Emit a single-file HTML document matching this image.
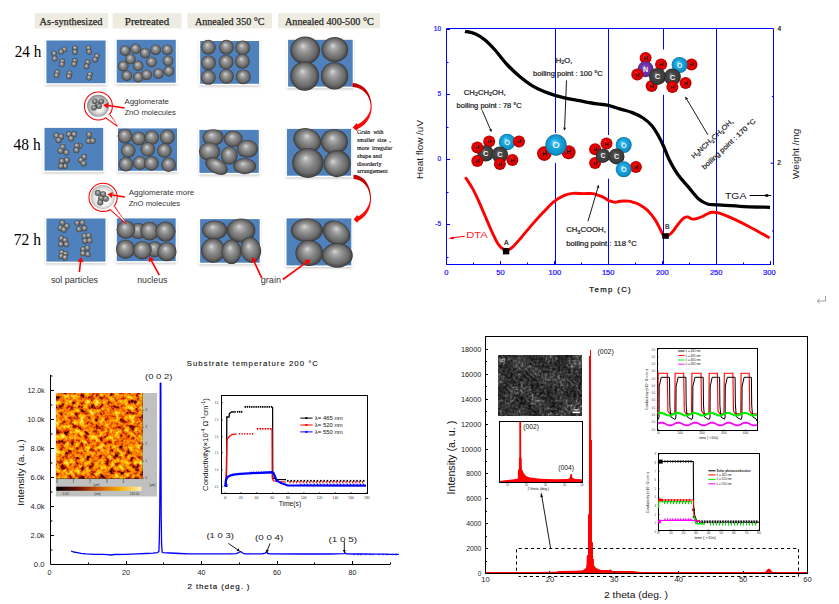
<!DOCTYPE html><html><head><meta charset="utf-8"><style>
html,body{margin:0;padding:0;background:#fff;width:839px;height:604px;overflow:hidden}
svg{display:block;font-family:"Liberation Sans",sans-serif}
</style></head><body>
<svg width="839" height="604" viewBox="0 0 839 604">
<defs>
<radialGradient id="sph" cx="0.5" cy="0.5" r="0.5" fx="0.42" fy="0.33"><stop offset="0" stop-color="#dadada"/><stop offset="0.22" stop-color="#ababab"/><stop offset="0.5" stop-color="#878787"/><stop offset="0.78" stop-color="#696969"/><stop offset="0.93" stop-color="#4a4a4a"/><stop offset="1" stop-color="#363636"/></radialGradient>
<radialGradient id="aH" cx="0.5" cy="0.5" r="0.5" fx="0.4" fy="0.35"><stop offset="0" stop-color="#ff6060"/><stop offset="0.25" stop-color="#f00000"/><stop offset="0.8" stop-color="#d80000"/><stop offset="1" stop-color="#a00000"/></radialGradient>
<radialGradient id="aO" cx="0.5" cy="0.5" r="0.5" fx="0.4" fy="0.35"><stop offset="0" stop-color="#90e0ff"/><stop offset="0.3" stop-color="#20b0e8"/><stop offset="0.85" stop-color="#1090c8"/><stop offset="1" stop-color="#0a6c9c"/></radialGradient>
<radialGradient id="aC" cx="0.5" cy="0.5" r="0.5" fx="0.4" fy="0.35"><stop offset="0" stop-color="#8a8a8a"/><stop offset="0.3" stop-color="#4a4a4a"/><stop offset="0.85" stop-color="#3a3a3a"/><stop offset="1" stop-color="#262626"/></radialGradient>
<radialGradient id="aN" cx="0.5" cy="0.5" r="0.5" fx="0.4" fy="0.35"><stop offset="0" stop-color="#b080e0"/><stop offset="0.3" stop-color="#7a3cb0"/><stop offset="0.85" stop-color="#642c98"/><stop offset="1" stop-color="#4a1e70"/></radialGradient>
<radialGradient id="disc1" cx="0.5" cy="0.5" r="0.5" fx="0.62" fy="0.7"><stop offset="0" stop-color="#ffffff"/><stop offset="0.35" stop-color="#e8e8e8"/><stop offset="0.8" stop-color="#b8b8b8"/><stop offset="1" stop-color="#8a8a8a"/></radialGradient>
<radialGradient id="disc2" cx="0.5" cy="0.5" r="0.5" fx="0.62" fy="0.66"><stop offset="0" stop-color="#ffffff"/><stop offset="0.55" stop-color="#f6f6f6"/><stop offset="0.85" stop-color="#dadada"/><stop offset="1" stop-color="#b0b0b0"/></radialGradient>
<linearGradient id="arcg" x1="0" y1="0" x2="0" y2="1"><stop offset="0" stop-color="#c00000"/><stop offset="0.45" stop-color="#d00000"/><stop offset="0.55" stop-color="#ff1010"/><stop offset="1" stop-color="#ff0000"/></linearGradient>
<linearGradient id="cbar" x1="0" y1="0" x2="1" y2="0"><stop offset="0" stop-color="#000000"/><stop offset="0.25" stop-color="#6a1000"/><stop offset="0.5" stop-color="#d05800"/><stop offset="0.75" stop-color="#f8b000"/><stop offset="1" stop-color="#fff0b0"/></linearGradient>
<filter id="afm" x="0" y="0" width="1" height="1" color-interpolation-filters="sRGB"><feTurbulence type="fractalNoise" baseFrequency="0.2" numOctaves="3" seed="7" result="n"/><feColorMatrix in="n" type="matrix" values="1.55 0 0 0 -0.24  1.55 0 0 0 -0.24  1.55 0 0 0 -0.24  0 0 0 0 1" result="g"/><feComponentTransfer in="g"><feFuncR type="table" tableValues="0 0.3 0.62 0.86 0.96 1 1 1 1"/><feFuncG type="table" tableValues="0 0.02 0.1 0.26 0.45 0.58 0.72 0.86 0.95"/><feFuncB type="table" tableValues="0 0 0 0 0 0 0.02 0.12 0.4"/></feComponentTransfer></filter>
<filter id="sem" x="0" y="0" width="1" height="1" color-interpolation-filters="sRGB"><feTurbulence type="fractalNoise" baseFrequency="0.07" numOctaves="1" seed="5" result="lo0"/><feColorMatrix in="lo0" type="matrix" values="1 0 0 0 0  1 0 0 0 0  1 0 0 0 0  0 0 0 0 1" result="lo"/><feTurbulence type="fractalNoise" baseFrequency="0.38" numOctaves="2" seed="3" result="hi0"/><feColorMatrix in="hi0" type="matrix" values="1 0 0 0 0  1 0 0 0 0  1 0 0 0 0  0 0 0 0 1" result="hi"/><feComposite in="lo" in2="hi" operator="arithmetic" k1="0" k2="0.6" k3="0.9" k4="-0.25" result="g"/><feComponentTransfer in="g"><feFuncR type="table" tableValues="0.02 0.05 0.1 0.17 0.25 0.35 0.55 0.85"/><feFuncG type="table" tableValues="0.02 0.05 0.1 0.17 0.25 0.35 0.55 0.85"/><feFuncB type="table" tableValues="0.02 0.05 0.1 0.17 0.25 0.35 0.55 0.85"/></feComponentTransfer></filter>
<filter id="blur05"><feGaussianBlur stdDeviation="0.6"/></filter>
<filter id="shd" x="-0.1" y="-0.1" width="1.2" height="1.3"><feGaussianBlur stdDeviation="0.8"/></filter>
</defs>
<rect x="34.8" y="13.1" width="73.4" height="15.3" fill="#eeece1"/>
<text x="39.5" y="24.6" font-size="10.4" fill="#262626" font-family='"Liberation Serif", serif' textLength="63" lengthAdjust="spacingAndGlyphs" stroke="#262626" stroke-width="0.25">As-synthesized</text>
<rect x="112.6" y="13.1" width="69" height="15.3" fill="#eeece1"/>
<text x="124.8" y="24.6" font-size="10.4" fill="#262626" font-family='"Liberation Serif", serif' textLength="44.4" lengthAdjust="spacingAndGlyphs" stroke="#262626" stroke-width="0.25">Pretreated</text>
<rect x="187.5" y="13.1" width="84.5" height="15.3" fill="#eeece1"/>
<text x="195" y="24.6" font-size="10.4" fill="#262626" font-family='"Liberation Serif", serif' textLength="69.5" lengthAdjust="spacingAndGlyphs" stroke="#262626" stroke-width="0.25">Annealed 350 °C</text>
<rect x="278" y="13.1" width="102" height="15.3" fill="#eeece1"/>
<text x="285" y="24.6" font-size="10.4" fill="#262626" font-family='"Liberation Serif", serif' textLength="88.75" lengthAdjust="spacingAndGlyphs" stroke="#262626" stroke-width="0.25">Annealed 400-500 °C</text>
<text x="14.7" y="56.7" font-size="15.8" fill="#000" font-family='"Liberation Serif", serif' textLength="26.6" lengthAdjust="spacingAndGlyphs" >24 h</text>
<text x="13.6" y="149.85" font-size="15.8" fill="#000" font-family='"Liberation Serif", serif' textLength="27.1" lengthAdjust="spacingAndGlyphs" >48 h</text>
<text x="13.8" y="244.6" font-size="15.8" fill="#000" font-family='"Liberation Serif", serif' textLength="27.2" lengthAdjust="spacingAndGlyphs" >72 h</text>
<rect x="45.4" y="41" width="61.2" height="44.9" fill="#9a9a9a" opacity="0.55" filter="url(#shd)"/>
<rect x="44.8" y="39.1" width="62.4" height="45.7" fill="#fff"/>
<rect x="46.4" y="40.5" width="59.2" height="42.7" fill="#4f81bd"/>
<circle cx="54.1" cy="53.6" r="2.8" fill="url(#sph)"/>
<circle cx="54.7" cy="58.6" r="2.8" fill="url(#sph)"/>
<circle cx="64.4" cy="49.5" r="2.8" fill="url(#sph)"/>
<circle cx="61.1" cy="51.8" r="2.8" fill="url(#sph)"/>
<circle cx="75" cy="48.2" r="2.8" fill="url(#sph)"/>
<circle cx="75" cy="52.1" r="2.8" fill="url(#sph)"/>
<circle cx="88.5" cy="48" r="2.8" fill="url(#sph)"/>
<circle cx="89.1" cy="51.8" r="2.8" fill="url(#sph)"/>
<circle cx="96.8" cy="56.1" r="2.8" fill="url(#sph)"/>
<circle cx="95" cy="59.7" r="2.8" fill="url(#sph)"/>
<circle cx="62.3" cy="61.4" r="2.8" fill="url(#sph)"/>
<circle cx="61.8" cy="64.5" r="2.8" fill="url(#sph)"/>
<circle cx="74.8" cy="60.9" r="2.8" fill="url(#sph)"/>
<circle cx="74.1" cy="64.1" r="2.8" fill="url(#sph)"/>
<circle cx="87.7" cy="62.3" r="2.8" fill="url(#sph)"/>
<circle cx="86.5" cy="66.4" r="2.8" fill="url(#sph)"/>
<circle cx="57.3" cy="72.3" r="2.8" fill="url(#sph)"/>
<circle cx="56.5" cy="75.5" r="2.8" fill="url(#sph)"/>
<circle cx="69.5" cy="73.2" r="2.8" fill="url(#sph)"/>
<circle cx="68.9" cy="76.4" r="2.8" fill="url(#sph)"/>
<circle cx="89.8" cy="74.5" r="2.8" fill="url(#sph)"/>
<circle cx="89.1" cy="77.7" r="2.8" fill="url(#sph)"/>
<rect x="115.7" y="40.3" width="61.1" height="45.1" fill="#9a9a9a" opacity="0.55" filter="url(#shd)"/>
<rect x="115.1" y="38.4" width="62.3" height="45.9" fill="#fff"/>
<rect x="116.7" y="39.8" width="59.1" height="42.9" fill="#4f81bd"/>
<circle cx="125" cy="50.5" r="5.3" fill="url(#sph)"/>
<circle cx="135.5" cy="48.8" r="5.3" fill="url(#sph)"/>
<circle cx="145.1" cy="53" r="5.3" fill="url(#sph)"/>
<circle cx="155.7" cy="49.7" r="5.3" fill="url(#sph)"/>
<circle cx="167.3" cy="49.7" r="5.3" fill="url(#sph)"/>
<circle cx="130.4" cy="59" r="5.3" fill="url(#sph)"/>
<circle cx="151.5" cy="62" r="5.3" fill="url(#sph)"/>
<circle cx="167.9" cy="60.8" r="5.3" fill="url(#sph)"/>
<circle cx="123.2" cy="66.1" r="5.3" fill="url(#sph)"/>
<circle cx="138.1" cy="65.8" r="5.3" fill="url(#sph)"/>
<circle cx="126.8" cy="75.6" r="5.3" fill="url(#sph)"/>
<circle cx="138.4" cy="77.1" r="5.3" fill="url(#sph)"/>
<circle cx="146.7" cy="74.7" r="5.3" fill="url(#sph)"/>
<circle cx="158.4" cy="73.5" r="5.3" fill="url(#sph)"/>
<circle cx="168.9" cy="71.1" r="5.3" fill="url(#sph)"/>
<rect x="199.2" y="41.5" width="60.9" height="45" fill="#9a9a9a" opacity="0.55" filter="url(#shd)"/>
<rect x="198.6" y="39.6" width="62.1" height="45.8" fill="#fff"/>
<rect x="200.2" y="41" width="58.9" height="42.8" fill="#4f81bd"/>
<circle cx="208.3" cy="47.2" r="7.4" fill="url(#sph)"/>
<circle cx="226.4" cy="47.2" r="7.4" fill="url(#sph)"/>
<circle cx="242.7" cy="47.8" r="7.4" fill="url(#sph)"/>
<circle cx="208.5" cy="62.8" r="7.4" fill="url(#sph)"/>
<circle cx="226.1" cy="62.1" r="7.4" fill="url(#sph)"/>
<circle cx="242.4" cy="61.2" r="7.4" fill="url(#sph)"/>
<circle cx="208.3" cy="77.4" r="7.4" fill="url(#sph)"/>
<circle cx="226.4" cy="76.3" r="7.4" fill="url(#sph)"/>
<circle cx="243.3" cy="76.8" r="7.4" fill="url(#sph)"/>
<rect x="287.1" y="40.3" width="66.6" height="49" fill="#9a9a9a" opacity="0.55" filter="url(#shd)"/>
<rect x="286.5" y="38.4" width="67.8" height="49.8" fill="#fff"/>
<rect x="288.1" y="39.8" width="64.6" height="46.8" fill="#4f81bd"/>
<ellipse cx="305.2" cy="50.3" rx="14.9" ry="13.9" fill="url(#sph)"/>
<ellipse cx="334.8" cy="49.7" rx="13.4" ry="12.6" fill="url(#sph)"/>
<ellipse cx="304.7" cy="76.1" rx="14.4" ry="14.6" fill="url(#sph)"/>
<ellipse cx="334.6" cy="75.9" rx="13.7" ry="13.7" fill="url(#sph)"/>
<rect x="43.5" y="128.4" width="60.7" height="44.9" fill="#9a9a9a" opacity="0.55" filter="url(#shd)"/>
<rect x="42.9" y="126.5" width="61.9" height="45.7" fill="#fff"/>
<rect x="44.5" y="127.9" width="58.7" height="42.7" fill="#4f81bd"/>
<circle cx="56.4" cy="135.6" r="3" fill="url(#sph)"/>
<circle cx="61.1" cy="136.7" r="3" fill="url(#sph)"/>
<circle cx="58.6" cy="140.2" r="3" fill="url(#sph)"/>
<circle cx="68.9" cy="134.3" r="3" fill="url(#sph)"/>
<circle cx="74.1" cy="134.3" r="3" fill="url(#sph)"/>
<circle cx="71.1" cy="138.5" r="3" fill="url(#sph)"/>
<circle cx="89.1" cy="134.7" r="3" fill="url(#sph)"/>
<circle cx="88.6" cy="141.1" r="3" fill="url(#sph)"/>
<circle cx="92.7" cy="140.8" r="3" fill="url(#sph)"/>
<circle cx="62.7" cy="147" r="3" fill="url(#sph)"/>
<circle cx="60.5" cy="150.9" r="3" fill="url(#sph)"/>
<circle cx="66.4" cy="152.5" r="3" fill="url(#sph)"/>
<circle cx="79.5" cy="145.8" r="3" fill="url(#sph)"/>
<circle cx="76.8" cy="145.8" r="3" fill="url(#sph)"/>
<circle cx="76.4" cy="150.2" r="3" fill="url(#sph)"/>
<circle cx="84.1" cy="157" r="3" fill="url(#sph)"/>
<circle cx="80.9" cy="160.2" r="3" fill="url(#sph)"/>
<circle cx="83.6" cy="163.4" r="3" fill="url(#sph)"/>
<circle cx="66.8" cy="160.2" r="3" fill="url(#sph)"/>
<circle cx="61.8" cy="161.1" r="3" fill="url(#sph)"/>
<circle cx="65" cy="166.1" r="3" fill="url(#sph)"/>
<circle cx="60.9" cy="166.1" r="3" fill="url(#sph)"/>
<rect x="117" y="128.9" width="61" height="44.6" fill="#9a9a9a" opacity="0.55" filter="url(#shd)"/>
<rect x="116.4" y="127" width="62.2" height="45.4" fill="#fff"/>
<rect x="118" y="128.4" width="59" height="42.4" fill="#4f81bd"/>
<circle cx="125" cy="136.1" r="7.4" fill="url(#sph)"/>
<circle cx="138.6" cy="138.4" r="7" fill="url(#sph)"/>
<circle cx="151.8" cy="137.5" r="7.3" fill="url(#sph)"/>
<circle cx="167.3" cy="137" r="7.4" fill="url(#sph)"/>
<circle cx="128.2" cy="150.6" r="7.3" fill="url(#sph)"/>
<circle cx="147.7" cy="149.3" r="7.3" fill="url(#sph)"/>
<circle cx="164.5" cy="150.6" r="7.3" fill="url(#sph)"/>
<circle cx="125.9" cy="164.3" r="7.3" fill="url(#sph)"/>
<circle cx="140" cy="162.9" r="7" fill="url(#sph)"/>
<circle cx="151.4" cy="163.4" r="7.3" fill="url(#sph)"/>
<circle cx="168.6" cy="164.7" r="7.3" fill="url(#sph)"/>
<rect x="198.4" y="130.4" width="61.4" height="45.2" fill="#9a9a9a" opacity="0.55" filter="url(#shd)"/>
<rect x="197.8" y="128.5" width="62.6" height="46" fill="#fff"/>
<rect x="199.4" y="129.9" width="59.4" height="43" fill="#4f81bd"/>
<ellipse cx="213.1" cy="137.4" rx="10.7" ry="8.2" fill="url(#sph)"/>
<ellipse cx="233.2" cy="138.9" rx="9.4" ry="8.2" fill="url(#sph)"/>
<ellipse cx="209.6" cy="151.6" rx="10.7" ry="9.4" fill="url(#sph)"/>
<ellipse cx="247.4" cy="148.8" rx="10.7" ry="9" fill="url(#sph)"/>
<ellipse cx="229.3" cy="155.5" rx="8.4" ry="9.3" fill="url(#sph)"/>
<ellipse cx="216.5" cy="166.2" rx="12.2" ry="7.4" fill="url(#sph)" transform="rotate(30 216.5 166.2)"/>
<ellipse cx="244.7" cy="166.2" rx="11.4" ry="8" fill="url(#sph)"/>
<rect x="285.9" y="129.4" width="66.2" height="49" fill="#9a9a9a" opacity="0.55" filter="url(#shd)"/>
<rect x="285.3" y="127.5" width="67.4" height="49.8" fill="#fff"/>
<rect x="286.9" y="128.9" width="64.2" height="46.8" fill="#4f81bd"/>
<ellipse cx="307.2" cy="140.3" rx="14.3" ry="11.8" fill="url(#sph)" transform="rotate(25 307.2 140.3)"/>
<ellipse cx="334.3" cy="141.7" rx="13.6" ry="12.5" fill="url(#sph)"/>
<ellipse cx="337.1" cy="163.6" rx="13.6" ry="13.6" fill="url(#sph)" transform="rotate(-40 337.1 163.6)"/>
<ellipse cx="307.9" cy="162.9" rx="15.7" ry="15" fill="url(#sph)"/>
<rect x="45.4" y="219" width="61.1" height="45.3" fill="#9a9a9a" opacity="0.55" filter="url(#shd)"/>
<rect x="44.8" y="217.1" width="62.3" height="46.1" fill="#fff"/>
<rect x="46.4" y="218.5" width="59.1" height="43.1" fill="#4f81bd"/>
<circle cx="62.3" cy="222.7" r="2.9" fill="url(#sph)"/>
<circle cx="66.8" cy="226.1" r="2.9" fill="url(#sph)"/>
<circle cx="60.5" cy="227.9" r="2.9" fill="url(#sph)"/>
<circle cx="63.8" cy="229.7" r="2.9" fill="url(#sph)"/>
<circle cx="77.3" cy="223.1" r="2.9" fill="url(#sph)"/>
<circle cx="82.3" cy="222.7" r="2.9" fill="url(#sph)"/>
<circle cx="79.1" cy="229.3" r="2.9" fill="url(#sph)"/>
<circle cx="84.5" cy="228.4" r="2.9" fill="url(#sph)"/>
<circle cx="61.4" cy="238.4" r="2.9" fill="url(#sph)"/>
<circle cx="65" cy="240.2" r="2.9" fill="url(#sph)"/>
<circle cx="60.9" cy="244.3" r="2.9" fill="url(#sph)"/>
<circle cx="66.4" cy="244.3" r="2.9" fill="url(#sph)"/>
<circle cx="84.5" cy="236.1" r="2.9" fill="url(#sph)"/>
<circle cx="88.6" cy="235.6" r="2.9" fill="url(#sph)"/>
<circle cx="85" cy="240.9" r="2.9" fill="url(#sph)"/>
<circle cx="89.6" cy="240.6" r="2.9" fill="url(#sph)"/>
<circle cx="61.8" cy="252.5" r="2.9" fill="url(#sph)"/>
<circle cx="65.5" cy="253.9" r="2.9" fill="url(#sph)"/>
<circle cx="61.4" cy="256.1" r="2.9" fill="url(#sph)"/>
<circle cx="65" cy="257.5" r="2.9" fill="url(#sph)"/>
<circle cx="83.2" cy="249.3" r="2.9" fill="url(#sph)"/>
<circle cx="87.3" cy="247.9" r="2.9" fill="url(#sph)"/>
<circle cx="82.8" cy="253.4" r="2.9" fill="url(#sph)"/>
<circle cx="87.8" cy="254.3" r="2.9" fill="url(#sph)"/>
<rect x="115.8" y="218.9" width="60.9" height="44.9" fill="#9a9a9a" opacity="0.55" filter="url(#shd)"/>
<rect x="115.2" y="217" width="62.1" height="45.7" fill="#fff"/>
<rect x="116.8" y="218.4" width="58.9" height="42.7" fill="#4f81bd"/>
<circle cx="138.2" cy="231.1" r="8" fill="url(#sph)"/>
<circle cx="154.6" cy="249.3" r="8" fill="url(#sph)"/>
<circle cx="125.9" cy="229.7" r="9.3" fill="url(#sph)"/>
<circle cx="149.6" cy="231.1" r="9.3" fill="url(#sph)"/>
<circle cx="165.5" cy="231.6" r="10" fill="url(#sph)"/>
<circle cx="125.5" cy="249.3" r="9.6" fill="url(#sph)"/>
<circle cx="142.3" cy="250.2" r="9.3" fill="url(#sph)"/>
<circle cx="166.9" cy="251.6" r="9.6" fill="url(#sph)"/>
<rect x="199.1" y="219.6" width="61.6" height="45.8" fill="#9a9a9a" opacity="0.55" filter="url(#shd)"/>
<rect x="198.5" y="217.7" width="62.8" height="46.6" fill="#fff"/>
<rect x="200.1" y="219.1" width="59.6" height="43.6" fill="#4f81bd"/>
<ellipse cx="214.6" cy="230.1" rx="12.7" ry="9.6" fill="url(#sph)"/>
<ellipse cx="241.1" cy="230.4" rx="14.3" ry="12" fill="url(#sph)"/>
<ellipse cx="213.1" cy="250.4" rx="12.1" ry="12.3" fill="url(#sph)"/>
<ellipse cx="231.5" cy="251.8" rx="9.9" ry="12.3" fill="url(#sph)"/>
<ellipse cx="250.8" cy="249.8" rx="10.2" ry="13" fill="url(#sph)" transform="rotate(-10 250.8 249.8)"/>
<rect x="285.5" y="218.9" width="66.8" height="49.2" fill="#9a9a9a" opacity="0.55" filter="url(#shd)"/>
<rect x="284.9" y="217" width="68" height="50" fill="#fff"/>
<rect x="286.5" y="218.4" width="64.8" height="47" fill="#4f81bd"/>
<ellipse cx="306.9" cy="230.3" rx="16" ry="11.9" fill="url(#sph)"/>
<ellipse cx="336.4" cy="232.9" rx="14.5" ry="11.5" fill="url(#sph)" transform="rotate(32 336.4 232.9)"/>
<ellipse cx="337.2" cy="255.4" rx="15.6" ry="12.3" fill="url(#sph)"/>
<ellipse cx="309.2" cy="253" rx="13.8" ry="13" fill="url(#sph)"/>
<path d="M352.5,82.9 C363.5,83.2 371.7,93 371.7,106.6 C371.9,116 367,124.6 358.4,128.6 L356.4,130.8 L352.7,127.5 L356.6,122.9 L357.3,124.6 C364,121.5 370.4,114.5 370.6,106.6 C370.6,96 363,87.3 352.5,87.0 Z" fill="url(#arcg)" transform="translate(0 0) translate(353 0) scale(1 1) translate(-353 0)"/>
<path d="M352.5,82.9 C363.5,83.2 371.7,93 371.7,106.6 C371.9,116 367,124.6 358.4,128.6 L356.4,130.8 L352.7,127.5 L356.6,122.9 L357.3,124.6 C364,121.5 370.4,114.5 370.6,106.6 C370.6,96 363,87.3 352.5,87.0 Z" fill="url(#arcg)" transform="translate(1 91.9) translate(353 0) scale(0.91 1) translate(-353 0)"/>
<text x="357" y="133.9" font-size="6.7" fill="#1a1a1a" font-family='"Liberation Serif", serif' textLength="26.5" lengthAdjust="spacingAndGlyphs" stroke="#1a1a1a" stroke-width="0.18">Grain&#160;&#160;with</text>
<text x="357" y="141.7" font-size="6.7" fill="#1a1a1a" font-family='"Liberation Serif", serif' textLength="33.9" lengthAdjust="spacingAndGlyphs" stroke="#1a1a1a" stroke-width="0.18">smaller&#160;&#160;size&#160;&#160;,</text>
<text x="357" y="149.6" font-size="6.7" fill="#1a1a1a" font-family='"Liberation Serif", serif' textLength="35.1" lengthAdjust="spacingAndGlyphs" stroke="#1a1a1a" stroke-width="0.18">more&#160;&#160;irregular</text>
<text x="357" y="157.5" font-size="6.7" fill="#1a1a1a" font-family='"Liberation Serif", serif' textLength="24.8" lengthAdjust="spacingAndGlyphs" stroke="#1a1a1a" stroke-width="0.18">shape and</text>
<text x="357" y="165.7" font-size="6.7" fill="#1a1a1a" font-family='"Liberation Serif", serif' textLength="24.4" lengthAdjust="spacingAndGlyphs" stroke="#1a1a1a" stroke-width="0.18">disorderly</text>
<text x="357" y="173.2" font-size="6.7" fill="#1a1a1a" font-family='"Liberation Serif", serif' textLength="30.6" lengthAdjust="spacingAndGlyphs" stroke="#1a1a1a" stroke-width="0.18">arrangement</text>
<path d="M105.7,117.9 L117.4,126.3 L110.1,115" fill="#fff" stroke="#ff0000" stroke-width="1.1" stroke-linejoin="miter"/>
<circle cx="98.4" cy="106" r="14" fill="#fff" stroke="#ff0000" stroke-width="1.1"/>
<path d="M105.5,116.7 L117.4,125.5 L109.1,114.6 Z" fill="#fff"/>
<circle cx="98.1" cy="105.8" r="11" fill="url(#disc1)"/>
<circle cx="94.8" cy="101.5" r="2.8" fill="url(#sph)"/>
<circle cx="101.3" cy="101.5" r="2.8" fill="url(#sph)"/>
<circle cx="97.7" cy="104.8" r="2.8" fill="url(#sph)"/>
<circle cx="94" cy="107.7" r="2.8" fill="url(#sph)"/>
<circle cx="99.1" cy="106.2" r="2.8" fill="url(#sph)"/>
<line x1="124.6" y1="108" x2="108.05" y2="105.61" stroke="#ff0000" stroke-width="1.5"/>
<path d="M103.1,104.9 L108.48,102.64 L107.62,108.58 Z" fill="#ff0000"/>
<path d="M109.8,209.4 L126.1,223.7 L114.6,206.6" fill="#fff" stroke="#ff0000" stroke-width="1.1" stroke-linejoin="miter"/>
<circle cx="103.1" cy="197.3" r="14.1" fill="#fff" stroke="#ff0000" stroke-width="1.1"/>
<path d="M109.6,208.2 L126.1,222.9 L113.6,206.2 Z" fill="#fff"/>
<circle cx="102.8" cy="197.1" r="12" fill="url(#disc2)"/>
<circle cx="97.9" cy="193.1" r="3" fill="url(#sph)"/>
<circle cx="103.1" cy="194.3" r="3" fill="url(#sph)"/>
<circle cx="101.1" cy="198.3" r="3" fill="url(#sph)"/>
<circle cx="105.8" cy="198.7" r="3" fill="url(#sph)"/>
<circle cx="100.3" cy="202.6" r="3" fill="url(#sph)"/>
<line x1="124.9" y1="196.9" x2="112.35" y2="195.03" stroke="#ff0000" stroke-width="1.5"/>
<path d="M107.4,194.3 L112.79,192.07 L111.9,198 Z" fill="#ff0000"/>
<text x="124.4" y="104.4" font-size="7.6" fill="#333" textLength="44.6" lengthAdjust="spacingAndGlyphs" >Agglomerate</text>
<text x="124.4" y="114.6" font-size="7.6" fill="#333" textLength="51.5" lengthAdjust="spacingAndGlyphs" >ZnO molecules</text>
<text x="128.7" y="195.3" font-size="7.6" fill="#333" textLength="65.6" lengthAdjust="spacingAndGlyphs" >Agglomerate more</text>
<text x="128.7" y="206" font-size="7.6" fill="#333" textLength="51.5" lengthAdjust="spacingAndGlyphs" >ZnO molecules</text>
<line x1="79.4" y1="272" x2="80.47" y2="261.97" stroke="#f00" stroke-width="1.6"/>
<path d="M81,257 L83.45,262.29 L77.49,261.65 Z" fill="#f00"/>
<line x1="159.3" y1="275.1" x2="151.5" y2="260.88" stroke="#f00" stroke-width="1.6"/>
<path d="M149.1,256.5 L154.13,259.44 L148.87,262.33 Z" fill="#f00"/>
<line x1="261.8" y1="278.2" x2="254.11" y2="261.63" stroke="#f00" stroke-width="1.6"/>
<path d="M252,257.1 L256.83,260.37 L251.39,262.9 Z" fill="#f00"/>
<line x1="282.8" y1="279.5" x2="306.36" y2="262.34" stroke="#f00" stroke-width="1.6"/>
<path d="M310.4,259.4 L308.12,264.77 L304.59,259.92 Z" fill="#f00"/>
<text x="50.9" y="282.9" font-size="8.6" fill="#333" textLength="47.2" lengthAdjust="spacingAndGlyphs" >sol particles</text>
<text x="137.2" y="282.9" font-size="8.6" fill="#333" textLength="30.2" lengthAdjust="spacingAndGlyphs" >nucleus</text>
<text x="260.7" y="283.2" font-size="8.8" fill="#333" textLength="20.3" lengthAdjust="spacingAndGlyphs" >grain</text>
<line x1="555.5" y1="28.5" x2="555.5" y2="132.9" stroke="#0000ff" stroke-width="1"/>
<line x1="555.5" y1="162.9" x2="555.5" y2="264.5" stroke="#0000ff" stroke-width="1"/>
<line x1="608.5" y1="28.5" x2="608.5" y2="135" stroke="#0000ff" stroke-width="1"/>
<line x1="608.5" y1="178.6" x2="608.5" y2="264.5" stroke="#0000ff" stroke-width="1"/>
<line x1="663.5" y1="28.5" x2="663.5" y2="49.5" stroke="#0000ff" stroke-width="1"/>
<line x1="663.5" y1="94.8" x2="663.5" y2="264.5" stroke="#0000ff" stroke-width="1"/>
<line x1="716.5" y1="28.5" x2="716.5" y2="264.5" stroke="#0000ff" stroke-width="1"/>
<path d="M446.5,28.5 L446.5,264.5 L771,264.5" fill="none" stroke="#0000ff" stroke-width="1"/>
<path d="M446.5,28.5 L773.5,28.5 L773.5,265" fill="none" stroke="#0000ff" stroke-width="1"/>
<line x1="446.5" y1="29.5" x2="450" y2="29.5" stroke="#0000ff" stroke-width="1"/>
<line x1="446.5" y1="62.5" x2="448.5" y2="62.5" stroke="#0000ff" stroke-width="1"/>
<line x1="446.5" y1="94.5" x2="450" y2="94.5" stroke="#0000ff" stroke-width="1"/>
<line x1="446.5" y1="127.5" x2="448.5" y2="127.5" stroke="#0000ff" stroke-width="1"/>
<line x1="446.5" y1="159.5" x2="450" y2="159.5" stroke="#0000ff" stroke-width="1"/>
<line x1="446.5" y1="192.5" x2="448.5" y2="192.5" stroke="#0000ff" stroke-width="1"/>
<line x1="446.5" y1="224.5" x2="450" y2="224.5" stroke="#0000ff" stroke-width="1"/>
<line x1="446.5" y1="257.5" x2="448.5" y2="257.5" stroke="#0000ff" stroke-width="1"/>
<text x="441.2" y="31.4" font-size="6.6" fill="#2a1aff" text-anchor="end" stroke="#2a1aff" stroke-width="0.22" >10</text>
<text x="441.2" y="96.4" font-size="6.6" fill="#2a1aff" text-anchor="end" stroke="#2a1aff" stroke-width="0.22" >5</text>
<text x="441.2" y="161.4" font-size="6.6" fill="#2a1aff" text-anchor="end" stroke="#2a1aff" stroke-width="0.22" >0</text>
<text x="441.2" y="226.4" font-size="6.6" fill="#2a1aff" text-anchor="end" stroke="#2a1aff" stroke-width="0.22" >-5</text>
<line x1="446.5" y1="264.5" x2="446.5" y2="261" stroke="#0000ff" stroke-width="1"/>
<line x1="473.5" y1="264.5" x2="473.5" y2="262.5" stroke="#0000ff" stroke-width="1"/>
<line x1="500.5" y1="264.5" x2="500.5" y2="261" stroke="#0000ff" stroke-width="1"/>
<line x1="527.5" y1="264.5" x2="527.5" y2="262.5" stroke="#0000ff" stroke-width="1"/>
<line x1="554.5" y1="264.5" x2="554.5" y2="261" stroke="#0000ff" stroke-width="1"/>
<line x1="581.5" y1="264.5" x2="581.5" y2="262.5" stroke="#0000ff" stroke-width="1"/>
<line x1="608.5" y1="264.5" x2="608.5" y2="261" stroke="#0000ff" stroke-width="1"/>
<line x1="635.5" y1="264.5" x2="635.5" y2="262.5" stroke="#0000ff" stroke-width="1"/>
<line x1="662.5" y1="264.5" x2="662.5" y2="261" stroke="#0000ff" stroke-width="1"/>
<line x1="689.5" y1="264.5" x2="689.5" y2="262.5" stroke="#0000ff" stroke-width="1"/>
<line x1="716.5" y1="264.5" x2="716.5" y2="261" stroke="#0000ff" stroke-width="1"/>
<line x1="743.5" y1="264.5" x2="743.5" y2="262.5" stroke="#0000ff" stroke-width="1"/>
<line x1="770.5" y1="264.5" x2="770.5" y2="261" stroke="#0000ff" stroke-width="1"/>
<text x="446.3" y="275.2" font-size="6.6" fill="#2a1aff" textLength="4.2" lengthAdjust="spacingAndGlyphs" text-anchor="middle" stroke="#2a1aff" stroke-width="0.22" >0</text>
<text x="500.5" y="275.2" font-size="6.6" fill="#2a1aff" textLength="8.4" lengthAdjust="spacingAndGlyphs" text-anchor="middle" stroke="#2a1aff" stroke-width="0.22" >50</text>
<text x="554.8" y="275.2" font-size="6.6" fill="#2a1aff" textLength="12.6" lengthAdjust="spacingAndGlyphs" text-anchor="middle" stroke="#2a1aff" stroke-width="0.22" >100</text>
<text x="608.2" y="275.2" font-size="6.6" fill="#2a1aff" textLength="12.6" lengthAdjust="spacingAndGlyphs" text-anchor="middle" stroke="#2a1aff" stroke-width="0.22" >150</text>
<text x="662.3" y="275.2" font-size="6.6" fill="#2a1aff" textLength="12.6" lengthAdjust="spacingAndGlyphs" text-anchor="middle" stroke="#2a1aff" stroke-width="0.22" >200</text>
<text x="716.2" y="275.2" font-size="6.6" fill="#2a1aff" textLength="12.6" lengthAdjust="spacingAndGlyphs" text-anchor="middle" stroke="#2a1aff" stroke-width="0.22" >250</text>
<text x="769.4" y="275.2" font-size="6.6" fill="#2a1aff" textLength="12.6" lengthAdjust="spacingAndGlyphs" text-anchor="middle" stroke="#2a1aff" stroke-width="0.22" >300</text>
<line x1="773.5" y1="96.5" x2="771.9" y2="96.5" stroke="#0000ff" stroke-width="1"/>
<line x1="773.5" y1="163.2" x2="770.5" y2="163.2" stroke="#0000ff" stroke-width="1"/>
<line x1="773.5" y1="231" x2="771.9" y2="231" stroke="#0000ff" stroke-width="1"/>
<text x="777.5" y="30.8" font-size="6.6" fill="#111" stroke="#111" stroke-width="0.22" >4</text>
<text x="777.3" y="165" font-size="6.6" fill="#111" stroke="#111" stroke-width="0.22" >2</text>
<text x="589.3" y="292.2" font-size="7.8" fill="#1a1a1a" textLength="41.4" lengthAdjust="spacing" stroke="#1a1a1a" stroke-width="0.25">Temp (C)</text>
<text x="423" y="179" font-size="9" fill="#1a1a1a" textLength="59" lengthAdjust="spacingAndGlyphs" transform="rotate(-90 423 179)" >Heat flow /uV</text>
<text x="799.3" y="178.9" font-size="9.4" fill="#1a1a1a" textLength="50.3" lengthAdjust="spacingAndGlyphs" transform="rotate(-90 799.3 178.9)" >Weight /mg</text>
<path d="M465,31.3 C466.67,31.72 471.67,32.35 475,33.8 C478.33,35.25 481.67,37.3 485,40 C488.33,42.7 491.25,45.83 495,50 C498.75,54.17 503.33,60.53 507.5,65 C511.67,69.47 515.92,73.35 520,76.8 C524.08,80.25 528,83.23 532,85.7 C536,88.17 540.03,89.95 544,91.6 C547.97,93.25 551.85,94.43 555.8,95.6 C559.75,96.77 563.73,97.75 567.7,98.6 C571.67,99.45 575.63,99.97 579.6,100.7 C583.57,101.43 588.1,102.42 591.5,103 C594.9,103.58 597.18,103.8 600,104.2 C602.82,104.6 604.82,104.53 608.4,105.4 C611.98,106.27 617.52,108.2 621.5,109.4 C625.48,110.6 628.7,111.17 632.3,112.6 C635.9,114.03 639.87,115.85 643.1,118 C646.33,120.15 649.2,122.63 651.7,125.5 C654.2,128.37 656.13,131.78 658.1,135.2 C660.07,138.62 661.7,142.05 663.5,146 C665.3,149.95 666.57,154.23 668.9,158.9 C671.23,163.57 674.27,169.33 677.5,174 C680.73,178.67 684.72,182.68 688.3,186.9 C691.88,191.12 695.8,196.45 699,199.3 C702.2,202.15 704.62,203.08 707.5,204 C710.38,204.92 710.88,204.42 716.3,204.8 C721.72,205.18 731.05,205.87 740,206.3 C748.95,206.73 765,207.22 770,207.4" fill="none" stroke="#000" stroke-width="3.3" stroke-linejoin="round"/>
<path d="M465.3,177.2 C466.45,178.98 469.98,183.97 472.2,187.9 C474.42,191.83 476.47,196.15 478.6,200.8 C480.73,205.45 482.85,210.8 485,215.8 C487.15,220.8 489.35,226.15 491.5,230.8 C493.65,235.45 495.82,240.53 497.9,243.7 C499.98,246.87 502.4,248.7 504,249.8 C505.6,250.9 506.02,250.78 507.5,250.3 C508.98,249.82 510.57,249.08 512.9,246.9 C515.23,244.72 518.27,240.95 521.5,237.2 C524.73,233.45 528.72,228.5 532.3,224.4 C535.88,220.3 539.43,216.37 543,212.6 C546.57,208.83 550.13,204.67 553.7,201.8 C557.27,198.93 561.18,196.8 564.4,195.4 C567.62,194 569.78,193.7 573,193.4 C576.22,193.1 580.38,193.57 583.7,193.6 C587.02,193.63 590.77,193.42 592.9,193.6 C595.03,193.78 595.07,194.23 596.5,194.7 C597.93,195.17 600.08,195.82 601.5,196.4 C602.92,196.98 603.82,197.52 605,198.2 C606.18,198.88 607.4,199.92 608.6,200.5 C609.8,201.08 611,201.4 612.2,201.7 C613.4,202 614.5,202.38 615.8,202.3 C617.1,202.22 617.87,201.4 620,201.2 C622.13,201 626.33,200.9 628.6,201.1 C630.87,201.3 631.7,201.75 633.6,202.4 C635.5,203.05 637.68,203.67 640,205 C642.32,206.33 645.02,208 647.5,210.4 C649.98,212.8 652.73,216.17 654.9,219.4 C657.07,222.63 659.07,227.15 660.5,229.8 C661.93,232.45 662.33,234.33 663.5,235.3 C664.67,236.27 666.45,235.73 667.5,235.6 C668.55,235.47 668.8,235.33 669.8,234.5 C670.8,233.67 672.25,232.13 673.5,230.6 C674.75,229.07 675.93,227.05 677.3,225.3 C678.67,223.55 680.47,221.4 681.7,220.1 C682.93,218.8 683.7,218.03 684.7,217.5 C685.7,216.97 686.58,216.68 687.7,216.9 C688.82,217.12 690.17,218.45 691.4,218.8 C692.63,219.15 693.85,219.15 695.1,219 C696.35,218.85 697.58,218.35 698.9,217.9 C700.22,217.45 701.57,216.98 703,216.3 C704.43,215.62 706.07,214.47 707.5,213.8 C708.93,213.13 710.18,212.52 711.6,212.3 C713.02,212.08 714.58,212.32 716,212.5 C717.42,212.68 717.27,212.38 720.1,213.4 C722.93,214.42 727.98,216.3 733,218.6 C738.02,220.9 744.12,223.98 750.2,227.2 C756.28,230.42 766.28,236.12 769.5,237.9" fill="none" stroke="#ff0000" stroke-width="2.9" stroke-linejoin="round"/>
<rect x="502.9" y="248.0" width="6.4" height="6.4" fill="#000"/>
<rect x="662.2" y="233.2" width="6.6" height="5.6" fill="#000"/>
<text x="503.9" y="244.8" font-size="7.4" fill="#1a1a1a" textLength="4.6" lengthAdjust="spacingAndGlyphs" stroke="#1a1a1a" stroke-width="0.22" >A</text>
<text x="665" y="228.7" font-size="7.4" fill="#1a1a1a" textLength="4.6" lengthAdjust="spacingAndGlyphs" stroke="#1a1a1a" stroke-width="0.22" >B</text>
<text x="724.9" y="198.8" font-size="9.6" fill="#111" textLength="21.5" lengthAdjust="spacingAndGlyphs" >TGA</text>
<line x1="749.7" y1="195.5" x2="771.2" y2="195.5" stroke="#000" stroke-width="1"/>
<rect x="765.4" y="194.2" width="2.8" height="2.6" fill="#000"/>
<text x="466.2" y="238.4" font-size="9.6" fill="#ff1a1a" textLength="21.4" lengthAdjust="spacingAndGlyphs" >DTA</text>
<line x1="450.5" y1="238.0" x2="464.7" y2="236.2" stroke="#ff0000" stroke-width="1.1"/>
<path d="M448.3,238.4 L453.5,236.4 L453.9,239.2 Z" fill="#ff0000"/>
<circle cx="489.2" cy="141.5" r="6" fill="url(#aH)"/>
<text x="489.2" y="143.42" font-size="5.4" fill="#111" text-anchor="middle" font-weight="bold">H</text>
<circle cx="507.1" cy="142" r="8.3" fill="url(#aO)"/>
<text x="507.1" y="144.66" font-size="7.47" fill="#f0f0f0" text-anchor="middle" font-weight="bold">O</text>
<circle cx="519" cy="141.5" r="6" fill="url(#aH)"/>
<text x="519" y="143.42" font-size="5.4" fill="#111" text-anchor="middle" font-weight="bold">H</text>
<circle cx="485.6" cy="153.4" r="8.2" fill="url(#aC)"/>
<text x="485.6" y="156.02" font-size="7.38" fill="#f0f0f0" text-anchor="middle" font-weight="bold">C</text>
<circle cx="499.9" cy="154.6" r="8.2" fill="url(#aC)"/>
<text x="499.9" y="157.22" font-size="7.38" fill="#f0f0f0" text-anchor="middle" font-weight="bold">C</text>
<circle cx="477.3" cy="147.4" r="6" fill="url(#aH)"/>
<text x="477.3" y="149.32" font-size="5.4" fill="#111" text-anchor="middle" font-weight="bold">H</text>
<circle cx="477.3" cy="161.1" r="6" fill="url(#aH)"/>
<text x="477.3" y="163.02" font-size="5.4" fill="#111" text-anchor="middle" font-weight="bold">H</text>
<circle cx="499.9" cy="164.1" r="6" fill="url(#aH)"/>
<text x="499.9" y="166.02" font-size="5.4" fill="#111" text-anchor="middle" font-weight="bold">H</text>
<circle cx="512.4" cy="159.9" r="6" fill="url(#aH)"/>
<text x="512.4" y="161.82" font-size="5.4" fill="#111" text-anchor="middle" font-weight="bold">H</text>
<circle cx="544.3" cy="153.6" r="7.3" fill="url(#aH)"/>
<text x="544.3" y="155.94" font-size="6.57" fill="#111" text-anchor="middle" font-weight="bold">H</text>
<circle cx="568.6" cy="152.2" r="7" fill="url(#aH)"/>
<text x="568.6" y="154.44" font-size="6.3" fill="#111" text-anchor="middle" font-weight="bold">H</text>
<circle cx="556" cy="145" r="10.7" fill="url(#aO)"/>
<text x="556" y="148.42" font-size="9.63" fill="#f0f0f0" text-anchor="middle" font-weight="bold">O</text>
<circle cx="606.5" cy="143.6" r="6" fill="url(#aH)"/>
<text x="606.5" y="145.52" font-size="5.4" fill="#111" text-anchor="middle" font-weight="bold">H</text>
<circle cx="595.1" cy="149.3" r="6" fill="url(#aH)"/>
<text x="595.1" y="151.22" font-size="5.4" fill="#111" text-anchor="middle" font-weight="bold">H</text>
<circle cx="595.1" cy="162.9" r="6" fill="url(#aH)"/>
<text x="595.1" y="164.82" font-size="5.4" fill="#111" text-anchor="middle" font-weight="bold">H</text>
<circle cx="603" cy="155.7" r="7.2" fill="url(#aC)"/>
<text x="603" y="158" font-size="6.48" fill="#f0f0f0" text-anchor="middle" font-weight="bold">C</text>
<circle cx="623.7" cy="145" r="8" fill="url(#aO)"/>
<text x="623.7" y="147.56" font-size="7.2" fill="#f0f0f0" text-anchor="middle" font-weight="bold">O</text>
<circle cx="616.5" cy="156.4" r="8" fill="url(#aC)"/>
<text x="616.5" y="158.96" font-size="7.2" fill="#f0f0f0" text-anchor="middle" font-weight="bold">C</text>
<circle cx="635.9" cy="167.1" r="6" fill="url(#aH)"/>
<text x="635.9" y="169.02" font-size="5.4" fill="#111" text-anchor="middle" font-weight="bold">H</text>
<circle cx="623.7" cy="169.3" r="8" fill="url(#aO)"/>
<text x="623.7" y="171.86" font-size="7.2" fill="#f0f0f0" text-anchor="middle" font-weight="bold">O</text>
<circle cx="645.6" cy="57.9" r="6" fill="url(#aH)"/>
<text x="645.6" y="59.82" font-size="5.4" fill="#111" text-anchor="middle" font-weight="bold">H</text>
<circle cx="661.1" cy="64.4" r="6" fill="url(#aH)"/>
<text x="661.1" y="66.32" font-size="5.4" fill="#111" text-anchor="middle" font-weight="bold">H</text>
<circle cx="691.5" cy="64.4" r="6" fill="url(#aH)"/>
<text x="691.5" y="66.32" font-size="5.4" fill="#111" text-anchor="middle" font-weight="bold">H</text>
<circle cx="679.6" cy="65" r="8" fill="url(#aO)"/>
<text x="679.6" y="67.56" font-size="7.2" fill="#f0f0f0" text-anchor="middle" font-weight="bold">O</text>
<circle cx="645.6" cy="69.2" r="8" fill="url(#aN)"/>
<text x="645.6" y="71.76" font-size="7.2" fill="#f0f0f0" text-anchor="middle" font-weight="bold">N</text>
<circle cx="637.3" cy="74.6" r="6" fill="url(#aH)"/>
<text x="637.3" y="76.52" font-size="5.4" fill="#111" text-anchor="middle" font-weight="bold">H</text>
<circle cx="651.6" cy="85.9" r="6" fill="url(#aH)"/>
<text x="651.6" y="87.82" font-size="5.4" fill="#111" text-anchor="middle" font-weight="bold">H</text>
<circle cx="657.5" cy="76.4" r="8.5" fill="url(#aC)"/>
<text x="657.5" y="79.12" font-size="7.65" fill="#f0f0f0" text-anchor="middle" font-weight="bold">C</text>
<circle cx="672.4" cy="77" r="8.5" fill="url(#aC)"/>
<text x="672.4" y="79.72" font-size="7.65" fill="#f0f0f0" text-anchor="middle" font-weight="bold">C</text>
<circle cx="685.6" cy="82.9" r="6" fill="url(#aH)"/>
<text x="685.6" y="84.82" font-size="5.4" fill="#111" text-anchor="middle" font-weight="bold">H</text>
<circle cx="672.4" cy="87.1" r="6" fill="url(#aH)"/>
<text x="672.4" y="89.02" font-size="5.4" fill="#111" text-anchor="middle" font-weight="bold">H</text>
<text x="463.8" y="94.6" font-size="6.9" fill="#1e1e1e" stroke="#1e1e1e" stroke-width="0.22" textLength="41.9" lengthAdjust="spacingAndGlyphs">CH<tspan dy="1.6" font-size="4.83">2</tspan><tspan dy="-1.6">CH<tspan dy="1.6" font-size="4.83">2</tspan><tspan dy="-1.6">OH,</tspan></tspan></text>
<text x="456.6" y="108.3" font-size="6.9" fill="#1e1e1e" textLength="65.2" lengthAdjust="spacingAndGlyphs" stroke="#1e1e1e" stroke-width="0.22" >boiling point : 78 °C</text>
<text x="555.8" y="62.5" font-size="6.9" fill="#1e1e1e" stroke="#1e1e1e" stroke-width="0.22" textLength="16.6" lengthAdjust="spacingAndGlyphs">H<tspan dy="1.6" font-size="4.83">2</tspan><tspan dy="-1.6">O,</tspan></text>
<text x="533.1" y="76.2" font-size="6.9" fill="#1e1e1e" textLength="69.7" lengthAdjust="spacingAndGlyphs" stroke="#1e1e1e" stroke-width="0.22" >boiling point : 100 °C</text>
<text x="566.2" y="231.9" font-size="6.9" fill="#1e1e1e" stroke="#1e1e1e" stroke-width="0.22" textLength="39.6" lengthAdjust="spacingAndGlyphs">CH<tspan dy="1.6" font-size="4.83">3</tspan><tspan dy="-1.6">COOH,</tspan></text>
<text x="566.2" y="245.9" font-size="6.9" fill="#1e1e1e" textLength="70.5" lengthAdjust="spacingAndGlyphs" stroke="#1e1e1e" stroke-width="0.22" >boiling point : 118 °C</text>
<text x="693.9" y="159.1" font-size="6.9" fill="#1e1e1e" stroke="#1e1e1e" stroke-width="0.22" textLength="54.4" lengthAdjust="spacingAndGlyphs" transform="rotate(-43 693.9 159.1)">H<tspan dy="1.6" font-size="4.83">2</tspan><tspan dy="-1.6">NCH<tspan dy="1.6" font-size="4.83">2</tspan><tspan dy="-1.6">CH<tspan dy="1.6" font-size="4.83">2</tspan><tspan dy="-1.6">OH,</tspan></tspan></tspan></text>
<text x="704.5" y="169.7" font-size="6.9" fill="#1e1e1e" textLength="70.3" lengthAdjust="spacingAndGlyphs" transform="rotate(-43 704.5 169.7)" stroke="#1e1e1e" stroke-width="0.22" >boiling point : 170 °C</text>
<line x1="482.2" y1="110.4" x2="490.33" y2="129.26" stroke="#000" stroke-width="0.9"/>
<path d="M491.6,132.2 L489.05,129.82 L491.62,128.71 Z" fill="#000"/>
<line x1="566.5" y1="80.4" x2="564.63" y2="127.6" stroke="#000" stroke-width="0.9"/>
<path d="M564.5,130.8 L563.23,127.55 L566.03,127.66 Z" fill="#000"/>
<line x1="588" y1="221.2" x2="597.89" y2="187.77" stroke="#000" stroke-width="0.9"/>
<path d="M598.8,184.7 L599.23,188.17 L596.55,187.37 Z" fill="#000"/>
<line x1="707.9" y1="134.8" x2="686.83" y2="99.35" stroke="#000" stroke-width="0.9"/>
<path d="M685.2,96.6 L688.04,98.64 L685.63,100.07 Z" fill="#000"/>
<path d="M825.5,296 L825.5,301 L817.5,301 M819.8,298.8 L817.3,301 L819.8,303.2" fill="none" stroke="#8a8a8a" stroke-width="0.8"/>
<path d="M50.5,375 L50.5,564.5 L390.1,564.5" fill="none" stroke="#000" stroke-width="1"/>
<line x1="50.5" y1="550" x2="52.5" y2="550" stroke="#000" stroke-width="1"/>
<line x1="50.5" y1="535.5" x2="54" y2="535.5" stroke="#000" stroke-width="1"/>
<line x1="50.5" y1="521" x2="52.5" y2="521" stroke="#000" stroke-width="1"/>
<line x1="50.5" y1="506.5" x2="54" y2="506.5" stroke="#000" stroke-width="1"/>
<line x1="50.5" y1="492" x2="52.5" y2="492" stroke="#000" stroke-width="1"/>
<line x1="50.5" y1="477.5" x2="54" y2="477.5" stroke="#000" stroke-width="1"/>
<line x1="50.5" y1="463" x2="52.5" y2="463" stroke="#000" stroke-width="1"/>
<line x1="50.5" y1="448.5" x2="54" y2="448.5" stroke="#000" stroke-width="1"/>
<line x1="50.5" y1="434" x2="52.5" y2="434" stroke="#000" stroke-width="1"/>
<line x1="50.5" y1="419.5" x2="54" y2="419.5" stroke="#000" stroke-width="1"/>
<line x1="50.5" y1="405" x2="52.5" y2="405" stroke="#000" stroke-width="1"/>
<line x1="50.5" y1="390.5" x2="54" y2="390.5" stroke="#000" stroke-width="1"/>
<line x1="50.5" y1="376" x2="52.5" y2="376" stroke="#000" stroke-width="1"/>
<line x1="88.5" y1="564.5" x2="88.5" y2="562.5" stroke="#000" stroke-width="1"/>
<line x1="126.5" y1="564.5" x2="126.5" y2="561" stroke="#000" stroke-width="1"/>
<line x1="163.5" y1="564.5" x2="163.5" y2="562.5" stroke="#000" stroke-width="1"/>
<line x1="201.5" y1="564.5" x2="201.5" y2="561" stroke="#000" stroke-width="1"/>
<line x1="239.5" y1="564.5" x2="239.5" y2="562.5" stroke="#000" stroke-width="1"/>
<line x1="277.5" y1="564.5" x2="277.5" y2="561" stroke="#000" stroke-width="1"/>
<line x1="314.5" y1="564.5" x2="314.5" y2="562.5" stroke="#000" stroke-width="1"/>
<line x1="352.5" y1="564.5" x2="352.5" y2="561" stroke="#000" stroke-width="1"/>
<line x1="390.5" y1="564.5" x2="390.5" y2="562.5" stroke="#000" stroke-width="1"/>
<text x="44.6" y="566.5" font-size="6.9" fill="#222" textLength="10.8" lengthAdjust="spacingAndGlyphs" text-anchor="end" >0.0</text>
<text x="44.6" y="537.5" font-size="6.9" fill="#222" textLength="14.2" lengthAdjust="spacingAndGlyphs" text-anchor="end" >2.0k</text>
<text x="44.6" y="508.5" font-size="6.9" fill="#222" textLength="14.2" lengthAdjust="spacingAndGlyphs" text-anchor="end" >4.0k</text>
<text x="44.6" y="479.5" font-size="6.9" fill="#222" textLength="14.2" lengthAdjust="spacingAndGlyphs" text-anchor="end" >6.0k</text>
<text x="44.6" y="450.5" font-size="6.9" fill="#222" textLength="14.2" lengthAdjust="spacingAndGlyphs" text-anchor="end" >8.0k</text>
<text x="44.6" y="421.5" font-size="6.9" fill="#222" textLength="17.2" lengthAdjust="spacingAndGlyphs" text-anchor="end" >10.0k</text>
<text x="44.6" y="392.5" font-size="6.9" fill="#222" textLength="17.2" lengthAdjust="spacingAndGlyphs" text-anchor="end" >12.0k</text>
<text x="49.6" y="575" font-size="6.9" fill="#222" textLength="4" lengthAdjust="spacingAndGlyphs" text-anchor="middle" >0</text>
<text x="126" y="575" font-size="6.9" fill="#222" textLength="8" lengthAdjust="spacingAndGlyphs" text-anchor="middle" >20</text>
<text x="201.5" y="575" font-size="6.9" fill="#222" textLength="8" lengthAdjust="spacingAndGlyphs" text-anchor="middle" >40</text>
<text x="277" y="575" font-size="6.9" fill="#222" textLength="8" lengthAdjust="spacingAndGlyphs" text-anchor="middle" >60</text>
<text x="352.5" y="575" font-size="6.9" fill="#222" textLength="8" lengthAdjust="spacingAndGlyphs" text-anchor="middle" >80</text>
<text x="23.6" y="505.8" font-size="9.8" fill="#111" textLength="66.3" lengthAdjust="spacingAndGlyphs" transform="rotate(-90 23.6 505.8)" >Intensity (a. u.)</text>
<text x="187.5" y="588.6" font-size="8" fill="#111" textLength="62" lengthAdjust="spacing" stroke="#111" stroke-width="0.15">2 theta (deg. )</text>
<text x="186.8" y="365.8" font-size="7.8" fill="#111" textLength="131.2" lengthAdjust="spacing" stroke="#111" stroke-width="0.1">Substrate temperature 200 °C</text>
<path d="M71.2,551.1 L73.7,552 L77.2,552.6 L81,553.3 L85.7,553.9 L95,554.3 L102.9,554.3 L108,554.6 L111.5,555 L114,554.5 L124.4,554.3 L137.2,553.9 L145.8,553.5 L153,553.2 L157.6,552.6 L158.9,551.5 L159.3,540 L159.7,516 L160.1,465 L160.3,383.1 L160.8,383.1 L161,465 L161.2,516 L161.6,545 L162.2,552.2 L163,552.6 L170,553 L180.1,553.5 L188.7,553.9 L200,553.9 L231.6,553.9 L236.5,553.6 L239.1,552.2 L240.7,551.6 L242.5,553 L245,553.9 L262,553.9 L265.2,553.2 L266.4,551.8 L267.8,553.5 L270,553.9 L300,554 L330,554 L344,553.6 L345,552.8 L346,553.8 L360,554 L375,554.2 L385,554.1 L390,554.4 L398.9,554.4" fill="none" stroke="#0000ff" stroke-width="1.3" stroke-linejoin="round"/>
<line x1="354" y1="553.6" x2="354" y2="555.4" stroke="#0000ff" stroke-width="0.8"/>
<line x1="358" y1="553.6" x2="358" y2="555.4" stroke="#0000ff" stroke-width="0.8"/>
<line x1="361" y1="553.6" x2="361" y2="555.4" stroke="#0000ff" stroke-width="0.8"/>
<line x1="366" y1="553.6" x2="366" y2="555.4" stroke="#0000ff" stroke-width="0.8"/>
<line x1="370" y1="553.6" x2="370" y2="555.4" stroke="#0000ff" stroke-width="0.8"/>
<line x1="373" y1="553.6" x2="373" y2="555.4" stroke="#0000ff" stroke-width="0.8"/>
<line x1="379" y1="553.6" x2="379" y2="555.4" stroke="#0000ff" stroke-width="0.8"/>
<line x1="383" y1="553.6" x2="383" y2="555.4" stroke="#0000ff" stroke-width="0.8"/>
<line x1="387" y1="553.6" x2="387" y2="555.4" stroke="#0000ff" stroke-width="0.8"/>
<line x1="393" y1="553.6" x2="393" y2="555.4" stroke="#0000ff" stroke-width="0.8"/>
<line x1="396" y1="553.6" x2="396" y2="555.4" stroke="#0000ff" stroke-width="0.8"/>
<text x="145" y="378.9" font-size="8" fill="#222" textLength="27.5" lengthAdjust="spacingAndGlyphs" >(0 0 2)</text>
<text x="206.4" y="537.6" font-size="8" fill="#222" textLength="27.5" lengthAdjust="spacingAndGlyphs" >(1 0 3)</text>
<text x="255" y="539.6" font-size="8" fill="#222" textLength="28.2" lengthAdjust="spacingAndGlyphs" >(0 0 4)</text>
<text x="328.4" y="541.7" font-size="8" fill="#222" textLength="28.8" lengthAdjust="spacingAndGlyphs" >(1 0 5)</text>
<line x1="228.4" y1="543.4" x2="237.43" y2="549.6" stroke="#000" stroke-width="0.9"/>
<path d="M239.9,551.3 L236.58,550.84 L238.28,548.36 Z" fill="#000"/>
<line x1="270" y1="543.4" x2="267.47" y2="550" stroke="#000" stroke-width="0.9"/>
<path d="M266.4,552.8 L266.07,549.46 L268.87,550.53 Z" fill="#000"/>
<line x1="344.3" y1="541.5" x2="344.3" y2="550" stroke="#000" stroke-width="0.9"/>
<path d="M344.3,553 L342.8,550 L345.8,550 Z" fill="#000"/>
<rect x="55.8" y="393" width="101.2" height="103.5" fill="#c0c0c0"/>
<rect x="56.3" y="393" width="86" height="85.2" fill="#e08a10"/>
<rect x="56.3" y="393" width="86" height="85.2" filter="url(#afm)"/>
<rect x="56.3" y="486.7" width="85.1" height="4.1" fill="url(#cbar)"/>
<line x1="142.3" y1="393" x2="142.3" y2="478.2" stroke="#333" stroke-width="0.5"/>
<line x1="56.3" y1="478.6" x2="142.3" y2="478.6" stroke="#333" stroke-width="0.5"/>
<line x1="142.3" y1="478.2" x2="144" y2="478.2" stroke="#333" stroke-width="0.5"/>
<text x="145.2" y="479.4" font-size="3.2" fill="#333" >0</text>
<line x1="142.3" y1="461.2" x2="144" y2="461.2" stroke="#333" stroke-width="0.5"/>
<text x="145.2" y="462.4" font-size="3.2" fill="#333" >1</text>
<line x1="142.3" y1="444.2" x2="144" y2="444.2" stroke="#333" stroke-width="0.5"/>
<text x="145.2" y="445.4" font-size="3.2" fill="#333" >2</text>
<line x1="142.3" y1="427.2" x2="144" y2="427.2" stroke="#333" stroke-width="0.5"/>
<text x="145.2" y="428.4" font-size="3.2" fill="#333" >3</text>
<line x1="142.3" y1="410.2" x2="144" y2="410.2" stroke="#333" stroke-width="0.5"/>
<text x="145.2" y="411.4" font-size="3.2" fill="#333" >4</text>
<line x1="57" y1="478.6" x2="57" y2="480.3" stroke="#333" stroke-width="0.5"/>
<text x="57" y="482.6" font-size="3.2" fill="#333" text-anchor="middle" >0</text>
<line x1="73.5" y1="478.6" x2="73.5" y2="480.3" stroke="#333" stroke-width="0.5"/>
<text x="73.5" y="482.6" font-size="3.2" fill="#333" text-anchor="middle" >1</text>
<line x1="90" y1="478.6" x2="90" y2="480.3" stroke="#333" stroke-width="0.5"/>
<text x="90" y="482.6" font-size="3.2" fill="#333" text-anchor="middle" >2</text>
<line x1="106.8" y1="478.6" x2="106.8" y2="480.3" stroke="#333" stroke-width="0.5"/>
<text x="106.8" y="482.6" font-size="3.2" fill="#333" text-anchor="middle" >3</text>
<line x1="123.5" y1="478.6" x2="123.5" y2="480.3" stroke="#333" stroke-width="0.5"/>
<text x="123.5" y="482.6" font-size="3.2" fill="#333" text-anchor="middle" >4</text>
<text x="96.5" y="485.6" font-size="3" fill="#333" text-anchor="middle" >[µm]</text>
<text x="152.5" y="486" font-size="3" fill="#333" text-anchor="middle" >[µm]</text>
<text x="62.5" y="494.8" font-size="3.2" fill="#333" >0.00</text>
<text x="97.5" y="494.8" font-size="3" fill="#333" text-anchor="middle" >[nm]</text>
<text x="134.5" y="494.8" font-size="3.2" fill="#333" text-anchor="middle" >145.00</text>
<rect x="221.5" y="395.5" width="146" height="98" fill="#fff" stroke="#000" stroke-width="1"/>
<line x1="221.5" y1="402.7" x2="223" y2="402.7" stroke="#000" stroke-width="0.6"/>
<text x="218.4" y="403.9" font-size="3.4" fill="#333" textLength="3.6" lengthAdjust="spacingAndGlyphs" text-anchor="end" >3.0</text>
<line x1="221.5" y1="420" x2="223" y2="420" stroke="#000" stroke-width="0.6"/>
<text x="218.4" y="421.2" font-size="3.4" fill="#333" textLength="3.6" lengthAdjust="spacingAndGlyphs" text-anchor="end" >2.5</text>
<line x1="221.5" y1="436.9" x2="223" y2="436.9" stroke="#000" stroke-width="0.6"/>
<text x="218.4" y="438.1" font-size="3.4" fill="#333" textLength="3.6" lengthAdjust="spacingAndGlyphs" text-anchor="end" >2.0</text>
<line x1="221.5" y1="452.7" x2="223" y2="452.7" stroke="#000" stroke-width="0.6"/>
<text x="218.4" y="453.9" font-size="3.4" fill="#333" textLength="3.6" lengthAdjust="spacingAndGlyphs" text-anchor="end" >1.5</text>
<line x1="221.5" y1="470" x2="223" y2="470" stroke="#000" stroke-width="0.6"/>
<text x="218.4" y="471.2" font-size="3.4" fill="#333" textLength="3.6" lengthAdjust="spacingAndGlyphs" text-anchor="end" >1.0</text>
<line x1="221.5" y1="486.4" x2="223" y2="486.4" stroke="#000" stroke-width="0.6"/>
<text x="218.4" y="487.6" font-size="3.4" fill="#333" textLength="3.6" lengthAdjust="spacingAndGlyphs" text-anchor="end" >0.5</text>
<line x1="225.1" y1="493.5" x2="225.1" y2="492" stroke="#000" stroke-width="0.6"/>
<text x="225.1" y="498.6" font-size="3.4" fill="#333" textLength="2.4" lengthAdjust="spacingAndGlyphs" text-anchor="middle" >0</text>
<line x1="240.86" y1="493.5" x2="240.86" y2="492" stroke="#000" stroke-width="0.6"/>
<text x="240.86" y="498.6" font-size="3.4" fill="#333" textLength="4" lengthAdjust="spacingAndGlyphs" text-anchor="middle" >20</text>
<line x1="256.61" y1="493.5" x2="256.61" y2="492" stroke="#000" stroke-width="0.6"/>
<text x="256.61" y="498.6" font-size="3.4" fill="#333" textLength="4" lengthAdjust="spacingAndGlyphs" text-anchor="middle" >40</text>
<line x1="272.37" y1="493.5" x2="272.37" y2="492" stroke="#000" stroke-width="0.6"/>
<text x="272.37" y="498.6" font-size="3.4" fill="#333" textLength="4" lengthAdjust="spacingAndGlyphs" text-anchor="middle" >60</text>
<line x1="288.12" y1="493.5" x2="288.12" y2="492" stroke="#000" stroke-width="0.6"/>
<text x="288.12" y="498.6" font-size="3.4" fill="#333" textLength="4" lengthAdjust="spacingAndGlyphs" text-anchor="middle" >80</text>
<line x1="303.88" y1="493.5" x2="303.88" y2="492" stroke="#000" stroke-width="0.6"/>
<text x="303.88" y="498.6" font-size="3.4" fill="#333" textLength="5.6" lengthAdjust="spacingAndGlyphs" text-anchor="middle" >100</text>
<line x1="319.64" y1="493.5" x2="319.64" y2="492" stroke="#000" stroke-width="0.6"/>
<text x="319.64" y="498.6" font-size="3.4" fill="#333" textLength="5.6" lengthAdjust="spacingAndGlyphs" text-anchor="middle" >120</text>
<line x1="335.39" y1="493.5" x2="335.39" y2="492" stroke="#000" stroke-width="0.6"/>
<text x="335.39" y="498.6" font-size="3.4" fill="#333" textLength="5.6" lengthAdjust="spacingAndGlyphs" text-anchor="middle" >140</text>
<line x1="351.15" y1="493.5" x2="351.15" y2="492" stroke="#000" stroke-width="0.6"/>
<text x="351.15" y="498.6" font-size="3.4" fill="#333" textLength="5.6" lengthAdjust="spacingAndGlyphs" text-anchor="middle" >160</text>
<line x1="366.9" y1="493.5" x2="366.9" y2="492" stroke="#000" stroke-width="0.6"/>
<text x="366.9" y="498.6" font-size="3.4" fill="#333" textLength="5.6" lengthAdjust="spacingAndGlyphs" text-anchor="middle" >180</text>
<text x="278.7" y="506.1" font-size="6.6" fill="#111" textLength="22.5" lengthAdjust="spacingAndGlyphs" >Time(s)</text>
<text x="207.6" y="490.9" font-size="6.6" fill="#111" textLength="92.7" lengthAdjust="spacingAndGlyphs" transform="rotate(-90 207.6 490.9)">Conductivity(×10<tspan dy="-2.4" font-size="4.6">-4</tspan><tspan dy="2.4"> Ω</tspan><tspan dy="-2.4" font-size="4.6">-1</tspan><tspan dy="2.4">cm</tspan><tspan dy="-2.4" font-size="4.6">-1</tspan><tspan dy="2.4">)</tspan></text>
<path d="M225.6,486 L226.5,480 L226.8,417 L229,417 L229.4,413.5 L231.6,412 L236,411.8" fill="none" stroke="#000" stroke-width="1.3"/>
<rect x="237" y="410.9" width="1.4" height="1.8" fill="#000"/>
<rect x="239" y="410.9" width="1.4" height="1.8" fill="#000"/>
<rect x="241" y="410.9" width="1.4" height="1.8" fill="#000"/>
<rect x="244.5" y="406.0" width="1.4" height="1.8" fill="#000"/>
<rect x="246.7" y="406.0" width="1.4" height="1.8" fill="#000"/>
<rect x="248.9" y="406.0" width="1.4" height="1.8" fill="#000"/>
<rect x="251.1" y="406.0" width="1.4" height="1.8" fill="#000"/>
<rect x="253.3" y="406.0" width="1.4" height="1.8" fill="#000"/>
<rect x="255.5" y="406.0" width="1.4" height="1.8" fill="#000"/>
<rect x="257.7" y="406.0" width="1.4" height="1.8" fill="#000"/>
<rect x="259.9" y="406.0" width="1.4" height="1.8" fill="#000"/>
<rect x="262.1" y="406.0" width="1.4" height="1.8" fill="#000"/>
<rect x="264.3" y="406.0" width="1.4" height="1.8" fill="#000"/>
<rect x="266.5" y="406.0" width="1.4" height="1.8" fill="#000"/>
<rect x="268.7" y="406.0" width="1.4" height="1.8" fill="#000"/>
<rect x="270.9" y="406.0" width="1.4" height="1.8" fill="#000"/>
<path d="M272.6,406.9 L272.8,478.2 L276,478.6 L276.5,479.5 L286,479.6" fill="none" stroke="#000" stroke-width="1.2"/>
<rect x="287" y="479.9" width="1.6" height="1.8" fill="#000"/>
<rect x="290.3" y="479.9" width="1.6" height="1.8" fill="#000"/>
<rect x="293.6" y="479.9" width="1.6" height="1.8" fill="#000"/>
<rect x="296.9" y="479.9" width="1.6" height="1.8" fill="#000"/>
<rect x="300.2" y="479.9" width="1.6" height="1.8" fill="#000"/>
<rect x="303.5" y="479.9" width="1.6" height="1.8" fill="#000"/>
<rect x="306.8" y="479.9" width="1.6" height="1.8" fill="#000"/>
<rect x="310.1" y="479.9" width="1.6" height="1.8" fill="#000"/>
<rect x="313.4" y="479.9" width="1.6" height="1.8" fill="#000"/>
<rect x="316.7" y="479.9" width="1.6" height="1.8" fill="#000"/>
<rect x="320" y="479.9" width="1.6" height="1.8" fill="#000"/>
<rect x="323.3" y="479.9" width="1.6" height="1.8" fill="#000"/>
<rect x="326.6" y="479.9" width="1.6" height="1.8" fill="#000"/>
<rect x="329.9" y="479.9" width="1.6" height="1.8" fill="#000"/>
<rect x="333.2" y="479.9" width="1.6" height="1.8" fill="#000"/>
<rect x="336.5" y="479.9" width="1.6" height="1.8" fill="#000"/>
<rect x="339.8" y="479.9" width="1.6" height="1.8" fill="#000"/>
<rect x="343.1" y="479.9" width="1.6" height="1.8" fill="#000"/>
<rect x="346.4" y="479.9" width="1.6" height="1.8" fill="#000"/>
<rect x="349.7" y="479.9" width="1.6" height="1.8" fill="#000"/>
<rect x="353" y="479.9" width="1.6" height="1.8" fill="#000"/>
<rect x="356.3" y="479.9" width="1.6" height="1.8" fill="#000"/>
<rect x="359.6" y="479.9" width="1.6" height="1.8" fill="#000"/>
<rect x="362.9" y="479.9" width="1.6" height="1.8" fill="#000"/>
<path d="M225.5,487 L226.4,470 L226.9,440 L228.5,437.5 L230,436 L232,434.5 L236.5,433.8" fill="none" stroke="#f00" stroke-width="1.3"/>
<rect x="239" y="433.0" width="1.2" height="1.6" fill="#f00"/>
<rect x="241.6" y="433.0" width="1.2" height="1.6" fill="#f00"/>
<rect x="244.2" y="433.0" width="1.2" height="1.6" fill="#f00"/>
<rect x="246.8" y="433.0" width="1.2" height="1.6" fill="#f00"/>
<rect x="249.4" y="433.0" width="1.2" height="1.6" fill="#f00"/>
<rect x="252" y="433.0" width="1.2" height="1.6" fill="#f00"/>
<path d="M256.5,428.0 L258.7,428.0 L257.6,430.4 Z" fill="#f00"/>
<path d="M259.1,428.0 L261.3,428.0 L260.2,430.4 Z" fill="#f00"/>
<path d="M261.7,428.0 L263.9,428.0 L262.8,430.4 Z" fill="#f00"/>
<path d="M264.3,428.0 L266.5,428.0 L265.4,430.4 Z" fill="#f00"/>
<path d="M266.9,428.0 L269.1,428.0 L268,430.4 Z" fill="#f00"/>
<path d="M269.5,428.0 L271.7,428.0 L270.6,430.4 Z" fill="#f00"/>
<path d="M272.0,428.6 L272.2,478 L273.5,480.8 L278,481.6 L286,482.0" fill="none" stroke="#f00" stroke-width="1.2"/>
<path d="M289,481.3 L291,481.3 L290,483.9 Z" fill="#f00"/>
<path d="M292.3,481.3 L294.3,481.3 L293.3,483.9 Z" fill="#f00"/>
<path d="M295.6,481.3 L297.6,481.3 L296.6,483.9 Z" fill="#f00"/>
<path d="M298.9,481.3 L300.9,481.3 L299.9,483.9 Z" fill="#f00"/>
<path d="M302.2,481.3 L304.2,481.3 L303.2,483.9 Z" fill="#f00"/>
<path d="M305.5,481.3 L307.5,481.3 L306.5,483.9 Z" fill="#f00"/>
<path d="M308.8,481.3 L310.8,481.3 L309.8,483.9 Z" fill="#f00"/>
<path d="M312.1,481.3 L314.1,481.3 L313.1,483.9 Z" fill="#f00"/>
<path d="M315.4,481.3 L317.4,481.3 L316.4,483.9 Z" fill="#f00"/>
<path d="M318.7,481.3 L320.7,481.3 L319.7,483.9 Z" fill="#f00"/>
<path d="M322,481.3 L324,481.3 L323,483.9 Z" fill="#f00"/>
<path d="M325.3,481.3 L327.3,481.3 L326.3,483.9 Z" fill="#f00"/>
<path d="M328.6,481.3 L330.6,481.3 L329.6,483.9 Z" fill="#f00"/>
<path d="M331.9,481.3 L333.9,481.3 L332.9,483.9 Z" fill="#f00"/>
<path d="M335.2,481.3 L337.2,481.3 L336.2,483.9 Z" fill="#f00"/>
<path d="M338.5,481.3 L340.5,481.3 L339.5,483.9 Z" fill="#f00"/>
<path d="M341.8,481.3 L343.8,481.3 L342.8,483.9 Z" fill="#f00"/>
<path d="M345.1,481.3 L347.1,481.3 L346.1,483.9 Z" fill="#f00"/>
<path d="M348.4,481.3 L350.4,481.3 L349.4,483.9 Z" fill="#f00"/>
<path d="M351.7,481.3 L353.7,481.3 L352.7,483.9 Z" fill="#f00"/>
<path d="M355,481.3 L357,481.3 L356,483.9 Z" fill="#f00"/>
<path d="M358.3,481.3 L360.3,481.3 L359.3,483.9 Z" fill="#f00"/>
<path d="M361.6,481.3 L363.6,481.3 L362.6,483.9 Z" fill="#f00"/>
<path d="M224.9,486.5 L225.4,484.5 L226,480 L227.2,477.2 L230,475.6 L233.6,474.6 L240,473.8 L248.6,473.3 L260,472.8 L272.2,472.2 L273.5,473 L274.4,475 L276.5,480.4 L281,483 L287.3,485.3 L366,485.6" fill="none" stroke="#0000ff" stroke-width="2.2" stroke-linejoin="round"/>
<path d="M250,473.6 L252.1,473.6 L251.05,471.0 Z" fill="#0000ff"/>
<path d="M252.6,473.6 L254.7,473.6 L253.65,471.0 Z" fill="#0000ff"/>
<path d="M255.2,473.6 L257.3,473.6 L256.25,471.0 Z" fill="#0000ff"/>
<path d="M257.8,473.6 L259.9,473.6 L258.85,471.0 Z" fill="#0000ff"/>
<path d="M260.4,473.6 L262.5,473.6 L261.45,471.0 Z" fill="#0000ff"/>
<path d="M263,473.6 L265.1,473.6 L264.05,471.0 Z" fill="#0000ff"/>
<path d="M265.6,473.6 L267.7,473.6 L266.65,471.0 Z" fill="#0000ff"/>
<path d="M268.2,473.6 L270.3,473.6 L269.25,471.0 Z" fill="#0000ff"/>
<path d="M270.8,473.6 L272.9,473.6 L271.85,471.0 Z" fill="#0000ff"/>
<path d="M300,485.8 L302,485.8 L301,482.9 Z" fill="#0000ff"/>
<path d="M303.3,485.8 L305.3,485.8 L304.3,482.9 Z" fill="#0000ff"/>
<path d="M306.6,485.8 L308.6,485.8 L307.6,482.9 Z" fill="#0000ff"/>
<path d="M309.9,485.8 L311.9,485.8 L310.9,482.9 Z" fill="#0000ff"/>
<path d="M313.2,485.8 L315.2,485.8 L314.2,482.9 Z" fill="#0000ff"/>
<path d="M316.5,485.8 L318.5,485.8 L317.5,482.9 Z" fill="#0000ff"/>
<path d="M319.8,485.8 L321.8,485.8 L320.8,482.9 Z" fill="#0000ff"/>
<path d="M323.1,485.8 L325.1,485.8 L324.1,482.9 Z" fill="#0000ff"/>
<path d="M326.4,485.8 L328.4,485.8 L327.4,482.9 Z" fill="#0000ff"/>
<path d="M329.7,485.8 L331.7,485.8 L330.7,482.9 Z" fill="#0000ff"/>
<path d="M333,485.8 L335,485.8 L334,482.9 Z" fill="#0000ff"/>
<path d="M336.3,485.8 L338.3,485.8 L337.3,482.9 Z" fill="#0000ff"/>
<path d="M339.6,485.8 L341.6,485.8 L340.6,482.9 Z" fill="#0000ff"/>
<path d="M342.9,485.8 L344.9,485.8 L343.9,482.9 Z" fill="#0000ff"/>
<path d="M346.2,485.8 L348.2,485.8 L347.2,482.9 Z" fill="#0000ff"/>
<path d="M349.5,485.8 L351.5,485.8 L350.5,482.9 Z" fill="#0000ff"/>
<path d="M352.8,485.8 L354.8,485.8 L353.8,482.9 Z" fill="#0000ff"/>
<path d="M356.1,485.8 L358.1,485.8 L357.1,482.9 Z" fill="#0000ff"/>
<path d="M359.4,485.8 L361.4,485.8 L360.4,482.9 Z" fill="#0000ff"/>
<path d="M362.7,485.8 L364.7,485.8 L363.7,482.9 Z" fill="#0000ff"/>
<rect x="225.5" y="484.0" width="2.0" height="3.0" fill="#0000ff"/>
<line x1="300.3" y1="418.1" x2="312.6" y2="418.1" stroke="#000" stroke-width="1"/>
<rect x="305.4" y="417.1" width="2" height="2" fill="#000"/>
<text x="314.8" y="419.9" font-size="5.2" fill="#111" textLength="27.9" lengthAdjust="spacingAndGlyphs" >λ= 465 nm</text>
<line x1="300.3" y1="425" x2="312.6" y2="425" stroke="#f00" stroke-width="1"/>
<rect x="305.4" y="424" width="2" height="2" fill="#f00"/>
<text x="314.8" y="426.8" font-size="5.2" fill="#111" textLength="27.9" lengthAdjust="spacingAndGlyphs" >λ= 520 nm</text>
<line x1="300.3" y1="431.9" x2="312.6" y2="431.9" stroke="#00f" stroke-width="1"/>
<rect x="305.4" y="430.9" width="2" height="2" fill="#00f"/>
<text x="314.8" y="433.7" font-size="5.2" fill="#111" textLength="27.9" lengthAdjust="spacingAndGlyphs" >λ= 550 nm</text>
<path d="M485.5,572 L530,572 L556,571.8 L558.7,571 L575,570.8 L580,570.5 L583.1,570.2 L586,567.7 L586.5,564.6 L586.8,559 L586.8,555.3 L588,555.3 L588,514.3 L589,514.3 L589,356 L590,356 L590,350 L591,350 L591.2,440 L592,440 L592,542.2 L593,542.2 L593,559 L593.9,559 L593.9,564.6 L595,567 L596.4,567.9 L598.2,568.9 L601,569.9 L609.3,570 L610.5,569.6 L611.6,570.1 L612.2,571 L632.9,571.1 L640,571.9 L700,572 L765,572 L766.5,570.6 L767.8,569 L769.2,568.4 L770.4,569.4 L771.5,571 L773,572 L807,572 L807,573 L485.5,573 Z" fill="#ff0000"/>
<path d="M516.5,570.8 L516.5,548.5 L798.5,548.5 L798.5,576.5 L518.6,576.5" fill="none" stroke="#000" stroke-width="1" stroke-dasharray="3.2,2.9"/>
<line x1="550.6" y1="548.3" x2="541.4" y2="493.8" stroke="#000" stroke-width="0.9"/>
<path d="M541.0,492.6 L542.9,497.0 L540.4,497.3 Z" fill="#000"/>
<rect x="485.5" y="336.5" width="322" height="237" fill="none" stroke="#000" stroke-width="1"/>
<line x1="485.5" y1="561.5" x2="487" y2="561.5" stroke="#000" stroke-width="1"/>
<line x1="485.5" y1="548.5" x2="488" y2="548.5" stroke="#000" stroke-width="1"/>
<line x1="485.5" y1="536.5" x2="487" y2="536.5" stroke="#000" stroke-width="1"/>
<line x1="485.5" y1="523.5" x2="488" y2="523.5" stroke="#000" stroke-width="1"/>
<line x1="485.5" y1="511.5" x2="487" y2="511.5" stroke="#000" stroke-width="1"/>
<line x1="485.5" y1="498.5" x2="488" y2="498.5" stroke="#000" stroke-width="1"/>
<line x1="485.5" y1="486.5" x2="487" y2="486.5" stroke="#000" stroke-width="1"/>
<line x1="485.5" y1="473.5" x2="488" y2="473.5" stroke="#000" stroke-width="1"/>
<line x1="485.5" y1="461.5" x2="487" y2="461.5" stroke="#000" stroke-width="1"/>
<line x1="485.5" y1="449.5" x2="488" y2="449.5" stroke="#000" stroke-width="1"/>
<line x1="485.5" y1="436.5" x2="487" y2="436.5" stroke="#000" stroke-width="1"/>
<line x1="485.5" y1="424.5" x2="488" y2="424.5" stroke="#000" stroke-width="1"/>
<line x1="485.5" y1="411.5" x2="487" y2="411.5" stroke="#000" stroke-width="1"/>
<line x1="485.5" y1="399.5" x2="488" y2="399.5" stroke="#000" stroke-width="1"/>
<line x1="485.5" y1="386.5" x2="487" y2="386.5" stroke="#000" stroke-width="1"/>
<line x1="485.5" y1="374.5" x2="488" y2="374.5" stroke="#000" stroke-width="1"/>
<line x1="485.5" y1="361.5" x2="487" y2="361.5" stroke="#000" stroke-width="1"/>
<line x1="485.5" y1="349.5" x2="488" y2="349.5" stroke="#000" stroke-width="1"/>
<text x="481.4" y="576" font-size="7" fill="#222" textLength="3.6" lengthAdjust="spacingAndGlyphs" text-anchor="end" >0</text>
<text x="481.4" y="551.11" font-size="7" fill="#222" textLength="15.2" lengthAdjust="spacingAndGlyphs" text-anchor="end" >2000</text>
<text x="481.4" y="526.22" font-size="7" fill="#222" textLength="15.2" lengthAdjust="spacingAndGlyphs" text-anchor="end" >4000</text>
<text x="481.4" y="501.33" font-size="7" fill="#222" textLength="15.2" lengthAdjust="spacingAndGlyphs" text-anchor="end" >6000</text>
<text x="481.4" y="476.44" font-size="7" fill="#222" textLength="15.2" lengthAdjust="spacingAndGlyphs" text-anchor="end" >8000</text>
<text x="481.4" y="451.56" font-size="7" fill="#222" textLength="20.5" lengthAdjust="spacingAndGlyphs" text-anchor="end" >10000</text>
<text x="481.4" y="426.67" font-size="7" fill="#222" textLength="20.5" lengthAdjust="spacingAndGlyphs" text-anchor="end" >12000</text>
<text x="481.4" y="401.78" font-size="7" fill="#222" textLength="20.5" lengthAdjust="spacingAndGlyphs" text-anchor="end" >14000</text>
<text x="481.4" y="376.89" font-size="7" fill="#222" textLength="20.5" lengthAdjust="spacingAndGlyphs" text-anchor="end" >16000</text>
<text x="481.4" y="352" font-size="7" fill="#222" textLength="20.5" lengthAdjust="spacingAndGlyphs" text-anchor="end" >18000</text>
<line x1="517.5" y1="573.5" x2="517.5" y2="572" stroke="#000" stroke-width="1"/>
<line x1="549.5" y1="573.5" x2="549.5" y2="571" stroke="#000" stroke-width="1"/>
<line x1="582.5" y1="573.5" x2="582.5" y2="572" stroke="#000" stroke-width="1"/>
<line x1="614.5" y1="573.5" x2="614.5" y2="571" stroke="#000" stroke-width="1"/>
<line x1="646.5" y1="573.5" x2="646.5" y2="572" stroke="#000" stroke-width="1"/>
<line x1="678.5" y1="573.5" x2="678.5" y2="571" stroke="#000" stroke-width="1"/>
<line x1="710.5" y1="573.5" x2="710.5" y2="572" stroke="#000" stroke-width="1"/>
<line x1="743.5" y1="573.5" x2="743.5" y2="571" stroke="#000" stroke-width="1"/>
<line x1="775.5" y1="573.5" x2="775.5" y2="572" stroke="#000" stroke-width="1"/>
<line x1="807.5" y1="573.5" x2="807.5" y2="571" stroke="#000" stroke-width="1"/>
<text x="485.5" y="581.8" font-size="6.8" fill="#222" textLength="8.4" lengthAdjust="spacingAndGlyphs" text-anchor="middle" >10</text>
<text x="549.9" y="581.8" font-size="6.8" fill="#222" textLength="8.4" lengthAdjust="spacingAndGlyphs" text-anchor="middle" >20</text>
<text x="614.3" y="581.8" font-size="6.8" fill="#222" textLength="8.4" lengthAdjust="spacingAndGlyphs" text-anchor="middle" >30</text>
<text x="678.7" y="581.8" font-size="6.8" fill="#222" textLength="8.4" lengthAdjust="spacingAndGlyphs" text-anchor="middle" >40</text>
<text x="743.1" y="581.8" font-size="6.8" fill="#222" textLength="8.4" lengthAdjust="spacingAndGlyphs" text-anchor="middle" >50</text>
<text x="807.5" y="581.8" font-size="6.8" fill="#222" textLength="8.4" lengthAdjust="spacingAndGlyphs" text-anchor="middle" >60</text>
<text x="455.2" y="494.4" font-size="10.2" fill="#111" textLength="73.7" lengthAdjust="spacingAndGlyphs" transform="rotate(-90 455.2 494.4)" >Intensity (a. u. )</text>
<text x="604" y="597.9" font-size="9.4" fill="#111" textLength="64" lengthAdjust="spacingAndGlyphs" >2 theta (deg. )</text>
<text x="597.5" y="354.3" font-size="6.6" fill="#111" textLength="16.3" lengthAdjust="spacingAndGlyphs" >(002)</text>
<rect x="498" y="355" width="84" height="61" fill="#3a3a3a"/>
<rect x="498" y="355" width="84" height="61" filter="url(#sem)"/>
<text x="499.2" y="361.6" font-size="5.2" fill="#fff" textLength="6" lengthAdjust="spacingAndGlyphs" >(d)</text>
<rect x="572.5" y="411.6" width="7.4" height="1.6" fill="#fff"/>
<rect x="573.6" y="409.2" width="5" height="1.2" fill="#ddd"/>
<rect x="499.5" y="421.5" width="83" height="61" fill="#fff"/>
<path d="M499.6,481 L505,480.3 L512,479.6 L516,479 L517.8,478.6 L518,469.6 L518.9,469.4 L519,457.7 L519.3,457.5 L519.3,421.6 L521.1,421.6 L521.2,457.7 L521.7,458 L521.9,469.6 L522.6,470.5 L524,473.5 L526,476 L530,477.6 L540,478.8 L555,479.3 L568,479 L569.5,478 L570.6,474.1 L571.8,474.1 L572.4,477.8 L575,479 L582,479.3 L582,482.6 L499.6,482.6 Z" fill="#ff0000"/>
<rect x="499.5" y="421.5" width="83" height="61" fill="none" stroke="#000" stroke-width="1"/>
<text x="523.2" y="429.4" font-size="6.6" fill="#111" textLength="15.7" lengthAdjust="spacingAndGlyphs" >(002)</text>
<text x="558.3" y="470.4" font-size="6.6" fill="#111" textLength="15.6" lengthAdjust="spacingAndGlyphs" >(004)</text>
<line x1="507.5" y1="482.6" x2="507.5" y2="481.0" stroke="#000" stroke-width="0.5"/>
<text x="507.5" y="485.8" font-size="2.8" fill="#333" textLength="3" lengthAdjust="spacingAndGlyphs" text-anchor="middle" >10</text>
<line x1="526.5" y1="482.6" x2="526.5" y2="481.0" stroke="#000" stroke-width="0.5"/>
<text x="526.5" y="485.8" font-size="2.8" fill="#333" textLength="3" lengthAdjust="spacingAndGlyphs" text-anchor="middle" >20</text>
<line x1="545.5" y1="482.6" x2="545.5" y2="481.0" stroke="#000" stroke-width="0.5"/>
<text x="545.5" y="485.8" font-size="2.8" fill="#333" textLength="3" lengthAdjust="spacingAndGlyphs" text-anchor="middle" >30</text>
<line x1="564.5" y1="482.6" x2="564.5" y2="481.0" stroke="#000" stroke-width="0.5"/>
<text x="564.5" y="485.8" font-size="2.8" fill="#333" textLength="3" lengthAdjust="spacingAndGlyphs" text-anchor="middle" >40</text>
<line x1="582" y1="482.6" x2="582" y2="481.0" stroke="#000" stroke-width="0.5"/>
<text x="582" y="485.8" font-size="2.8" fill="#333" textLength="3" lengthAdjust="spacingAndGlyphs" text-anchor="middle" >50</text>
<text x="527.4" y="489.6" font-size="3.4" fill="#111" textLength="21.9" lengthAdjust="spacingAndGlyphs" >2 theta (deg.)</text>
<rect x="657.5" y="348.5" width="100" height="82" fill="#fff" stroke="#000" stroke-width="1"/>
<line x1="657.5" y1="349.5" x2="658.8" y2="349.5" stroke="#000" stroke-width="0.5"/>
<text x="655.2" y="350.5" font-size="2.6" fill="#333" textLength="3.4" lengthAdjust="spacingAndGlyphs" text-anchor="end" >0.0</text>
<line x1="657.5" y1="356.77" x2="658.8" y2="356.77" stroke="#000" stroke-width="0.5"/>
<text x="655.2" y="357.77" font-size="2.6" fill="#333" textLength="3.4" lengthAdjust="spacingAndGlyphs" text-anchor="end" >0.0</text>
<line x1="657.5" y1="364.05" x2="658.8" y2="364.05" stroke="#000" stroke-width="0.5"/>
<text x="655.2" y="365.05" font-size="2.6" fill="#333" textLength="3.4" lengthAdjust="spacingAndGlyphs" text-anchor="end" >0.0</text>
<line x1="657.5" y1="371.32" x2="658.8" y2="371.32" stroke="#000" stroke-width="0.5"/>
<text x="655.2" y="372.32" font-size="2.6" fill="#333" textLength="3.4" lengthAdjust="spacingAndGlyphs" text-anchor="end" >0.0</text>
<line x1="657.5" y1="378.59" x2="658.8" y2="378.59" stroke="#000" stroke-width="0.5"/>
<text x="655.2" y="379.59" font-size="2.6" fill="#333" textLength="3.4" lengthAdjust="spacingAndGlyphs" text-anchor="end" >0.0</text>
<line x1="657.5" y1="385.86" x2="658.8" y2="385.86" stroke="#000" stroke-width="0.5"/>
<text x="655.2" y="386.86" font-size="2.6" fill="#333" textLength="3.4" lengthAdjust="spacingAndGlyphs" text-anchor="end" >0.0</text>
<line x1="657.5" y1="393.14" x2="658.8" y2="393.14" stroke="#000" stroke-width="0.5"/>
<text x="655.2" y="394.14" font-size="2.6" fill="#333" textLength="3.4" lengthAdjust="spacingAndGlyphs" text-anchor="end" >0.0</text>
<line x1="657.5" y1="400.41" x2="658.8" y2="400.41" stroke="#000" stroke-width="0.5"/>
<text x="655.2" y="401.41" font-size="2.6" fill="#333" textLength="3.4" lengthAdjust="spacingAndGlyphs" text-anchor="end" >0.0</text>
<line x1="657.5" y1="407.68" x2="658.8" y2="407.68" stroke="#000" stroke-width="0.5"/>
<text x="655.2" y="408.68" font-size="2.6" fill="#333" textLength="3.4" lengthAdjust="spacingAndGlyphs" text-anchor="end" >0.0</text>
<line x1="657.5" y1="414.95" x2="658.8" y2="414.95" stroke="#000" stroke-width="0.5"/>
<text x="655.2" y="415.95" font-size="2.6" fill="#333" textLength="3.4" lengthAdjust="spacingAndGlyphs" text-anchor="end" >0.0</text>
<line x1="657.5" y1="422.23" x2="658.8" y2="422.23" stroke="#000" stroke-width="0.5"/>
<text x="655.2" y="423.23" font-size="2.6" fill="#333" textLength="3.4" lengthAdjust="spacingAndGlyphs" text-anchor="end" >0.0</text>
<line x1="657.5" y1="429.5" x2="658.8" y2="429.5" stroke="#000" stroke-width="0.5"/>
<text x="655.2" y="430.5" font-size="2.6" fill="#333" textLength="3.4" lengthAdjust="spacingAndGlyphs" text-anchor="end" >0.0</text>
<line x1="658.4" y1="430.5" x2="658.4" y2="429.2" stroke="#000" stroke-width="0.5"/>
<text x="658.4" y="433.6" font-size="2.6" fill="#333" textLength="2.5" lengthAdjust="spacingAndGlyphs" text-anchor="middle" >0</text>
<line x1="680.2" y1="430.5" x2="680.2" y2="429.2" stroke="#000" stroke-width="0.5"/>
<text x="680.2" y="433.6" font-size="2.6" fill="#333" textLength="5.5" lengthAdjust="spacingAndGlyphs" text-anchor="middle" >100</text>
<line x1="702" y1="430.5" x2="702" y2="429.2" stroke="#000" stroke-width="0.5"/>
<text x="702" y="433.6" font-size="2.6" fill="#333" textLength="5.5" lengthAdjust="spacingAndGlyphs" text-anchor="middle" >200</text>
<line x1="723.8" y1="430.5" x2="723.8" y2="429.2" stroke="#000" stroke-width="0.5"/>
<text x="723.8" y="433.6" font-size="2.6" fill="#333" textLength="5.5" lengthAdjust="spacingAndGlyphs" text-anchor="middle" >300</text>
<line x1="745.6" y1="430.5" x2="745.6" y2="429.2" stroke="#000" stroke-width="0.5"/>
<text x="745.6" y="433.6" font-size="2.6" fill="#333" textLength="5.5" lengthAdjust="spacingAndGlyphs" text-anchor="middle" >400</text>
<text x="699.2" y="438.6" font-size="3.6" fill="#111" textLength="19.1" lengthAdjust="spacingAndGlyphs" >time ( ×10s)</text>
<text x="648.4" y="410" font-size="3.6" fill="#111" textLength="41" lengthAdjust="spacingAndGlyphs" transform="rotate(-90 648.4 410)" >Conductivity (×10⁻⁴Ω⁻¹cm⁻¹)</text>
<path d="M657.8,414.5 L657.8,413.7 L658.2,373.3 L667.3,373.3 L667.9,411 L669.8,413.7 L674.7,413.7 L675.1,373.3 L683.7,373.3 L684.3,411 L686.2,413.7 L691.5,413.7 L691.9,373.3 L701,373.3 L701.6,411 L703.5,413.7 L708.8,413.7 L709.2,373.3 L717.4,373.3 L718,411 L719.9,413.7 L723.9,413.7 L724.3,373.3 L732.9,373.3 L733.5,411 L735.4,413.7 L740.7,413.7 L741.1,373.3 L749.2,373.3 L749.8,411 L751.7,413.7 L756.8,413.7" fill="none" stroke="#ff0000" stroke-width="1.1"/>
<path d="M657.8,419 L658.4,419.2 L659,417 L659.2,386 L660.2,382 L661.2,377.3 L669.5,377.3 L669.8,405 L670.5,414 L670.9,417 L674.5,419.2 L675.3,419.2 L675.9,417 L676.1,386 L677.1,382 L678.1,377.3 L685.9,377.3 L686.2,405 L686.9,414 L687.3,417 L690.9,419.2 L692.1,419.2 L692.7,417 L692.9,386 L693.9,382 L694.9,377.3 L703.2,377.3 L703.5,405 L704.2,414 L704.6,417 L708.2,419.2 L709.4,419.2 L710,417 L710.2,386 L711.2,382 L712.2,377.3 L719.6,377.3 L719.9,405 L720.6,414 L721,417 L724.6,419.2 L724.5,419.2 L725.1,417 L725.3,386 L726.3,382 L727.3,377.3 L735.1,377.3 L735.4,405 L736.1,414 L736.5,417 L740.1,419.2 L741.3,419.2 L741.9,417 L742.1,386 L743.1,382 L744.1,377.3 L751.4,377.3 L751.7,405 L752.4,414 L752.8,417 L756.4,419.2 L756.8,421" fill="none" stroke="#000" stroke-width="1.0"/>
<path d="M657.8,413.63 L658.79,413.25 L659.78,412.99 L660.77,412.9 L661.76,412.98 L662.75,413.23 L663.74,413.61 L664.73,414.07 L665.72,414.55 L666.71,414.98 L667.7,415.3 L668.69,415.48 L669.68,415.48 L670.67,415.31 L671.66,414.99 L672.65,414.56 L673.64,414.08 L674.63,413.62 L675.62,413.24 L676.61,412.99 L677.6,412.9 L678.59,412.99 L679.58,413.24 L680.57,413.62 L681.56,414.09 L682.55,414.56 L683.54,414.99 L684.53,415.31 L685.52,415.48 L686.51,415.48 L687.5,415.3 L688.49,414.97 L689.48,414.54 L690.47,414.07 L691.46,413.61 L692.45,413.23 L693.44,412.98 L694.43,412.9 L695.42,412.99 L696.41,413.25 L697.4,413.64 L698.39,414.1 L699.38,414.58 L700.37,415 L701.36,415.32 L702.35,415.48 L703.34,415.47 L704.33,415.29 L705.32,414.96 L706.31,414.53 L707.3,414.05 L708.29,413.6 L709.28,413.22 L710.27,412.98 L711.26,412.9 L712.25,413 L713.24,413.26 L714.23,413.65 L715.22,414.11 L716.21,414.59 L717.2,415.01 L718.19,415.32 L719.18,415.48 L720.17,415.47 L721.16,415.28 L722.15,414.95 L723.14,414.52 L724.13,414.04 L725.12,413.58 L726.11,413.21 L727.1,412.97 L728.09,412.9 L729.08,413.01 L730.07,413.27 L731.06,413.66 L732.05,414.13 L733.04,414.6 L734.03,415.02 L735.02,415.33 L736.01,415.49 L737,415.47 L737.99,415.28 L738.98,414.94 L739.97,414.5 L740.96,414.02 L741.95,413.57 L742.94,413.2 L743.93,412.97 L744.92,412.9 L745.91,413.01 L746.9,413.28 L747.89,413.68 L748.88,414.14 L749.87,414.62 L750.86,415.03 L751.85,415.34 L752.84,415.49 L753.83,415.46 L754.82,415.27 L755.81,414.93 L756.8,414.49" fill="none" stroke="#00ee00" stroke-width="2.2"/>
<path d="M657.8,423.79 L658.79,423.3 L659.78,422.91 L660.77,422.67 L661.76,422.6 L662.75,422.73 L663.74,423.03 L664.73,423.46 L665.72,423.96 L666.71,424.47 L667.7,424.91 L668.69,425.24 L669.68,425.39 L670.67,425.36 L671.66,425.14 L672.65,424.77 L673.64,424.29 L674.63,423.77 L675.62,423.29 L676.61,422.9 L677.6,422.66 L678.59,422.6 L679.58,422.73 L680.57,423.04 L681.56,423.47 L682.55,423.97 L683.54,424.48 L684.53,424.93 L685.52,425.24 L686.51,425.39 L687.5,425.35 L688.49,425.13 L689.48,424.75 L690.47,424.27 L691.46,423.76 L692.45,423.28 L693.44,422.89 L694.43,422.66 L695.42,422.6 L696.41,422.74 L697.4,423.05 L698.39,423.48 L699.38,423.99 L700.37,424.5 L701.36,424.94 L702.35,425.25 L703.34,425.39 L704.33,425.35 L705.32,425.12 L706.31,424.74 L707.3,424.26 L708.29,423.74 L709.28,423.26 L710.27,422.88 L711.26,422.65 L712.25,422.61 L713.24,422.75 L714.23,423.06 L715.22,423.5 L716.21,424.01 L717.2,424.51 L718.19,424.95 L719.18,425.26 L720.17,425.39 L721.16,425.34 L722.15,425.11 L723.14,424.73 L724.13,424.24 L725.12,423.73 L726.11,423.25 L727.1,422.87 L728.09,422.65 L729.08,422.61 L730.07,422.76 L731.06,423.07 L732.05,423.51 L733.04,424.02 L734.03,424.53 L735.02,424.96 L736.01,425.26 L737,425.4 L737.99,425.34 L738.98,425.1 L739.97,424.71 L740.96,424.23 L741.95,423.71 L742.94,423.24 L743.93,422.86 L744.92,422.64 L745.91,422.61 L746.9,422.76 L747.89,423.08 L748.88,423.53 L749.87,424.04 L750.86,424.54 L751.85,424.97 L752.84,425.27 L753.83,425.4 L754.82,425.33 L755.81,425.09 L756.8,424.7" fill="none" stroke="#ff00ff" stroke-width="1.8"/>
<line x1="678.2" y1="351" x2="684.6" y2="351" stroke="#000" stroke-width="0.9"/>
<text x="685.6" y="352" font-size="2.8" fill="#222" textLength="15" lengthAdjust="spacingAndGlyphs" >λ = 465 nm</text>
<line x1="678.2" y1="355.5" x2="684.6" y2="355.5" stroke="#f00" stroke-width="0.9"/>
<text x="685.6" y="356.5" font-size="2.8" fill="#222" textLength="15" lengthAdjust="spacingAndGlyphs" >λ = 465 nm</text>
<line x1="678.2" y1="360" x2="684.6" y2="360" stroke="#00dd00" stroke-width="0.9"/>
<text x="685.6" y="361" font-size="2.8" fill="#222" textLength="15" lengthAdjust="spacingAndGlyphs" >λ = 465 nm</text>
<line x1="678.2" y1="364.2" x2="684.6" y2="364.2" stroke="#ff00ff" stroke-width="0.9"/>
<text x="685.6" y="365.2" font-size="2.8" fill="#222" textLength="15" lengthAdjust="spacingAndGlyphs" >λ = 465 nm</text>
<rect x="658.5" y="453.5" width="101" height="77" fill="#fff" stroke="#000" stroke-width="1"/>
<line x1="658.5" y1="454.3" x2="659.8" y2="454.3" stroke="#000" stroke-width="0.5"/>
<text x="655.8" y="455.3" font-size="2.6" fill="#333" textLength="1.4" lengthAdjust="spacingAndGlyphs" text-anchor="end" >9</text>
<line x1="658.5" y1="462.9" x2="659.8" y2="462.9" stroke="#000" stroke-width="0.5"/>
<text x="655.8" y="463.9" font-size="2.6" fill="#333" textLength="1.4" lengthAdjust="spacingAndGlyphs" text-anchor="end" >8</text>
<line x1="658.5" y1="471.5" x2="659.8" y2="471.5" stroke="#000" stroke-width="0.5"/>
<text x="655.8" y="472.5" font-size="2.6" fill="#333" textLength="1.4" lengthAdjust="spacingAndGlyphs" text-anchor="end" >7</text>
<line x1="658.5" y1="480.1" x2="659.8" y2="480.1" stroke="#000" stroke-width="0.5"/>
<text x="655.8" y="481.1" font-size="2.6" fill="#333" textLength="1.4" lengthAdjust="spacingAndGlyphs" text-anchor="end" >6</text>
<line x1="658.5" y1="488.7" x2="659.8" y2="488.7" stroke="#000" stroke-width="0.5"/>
<text x="655.8" y="489.7" font-size="2.6" fill="#333" textLength="1.4" lengthAdjust="spacingAndGlyphs" text-anchor="end" >5</text>
<line x1="658.5" y1="497.3" x2="659.8" y2="497.3" stroke="#000" stroke-width="0.5"/>
<text x="655.8" y="498.3" font-size="2.6" fill="#333" textLength="1.4" lengthAdjust="spacingAndGlyphs" text-anchor="end" >4</text>
<line x1="658.5" y1="505.9" x2="659.8" y2="505.9" stroke="#000" stroke-width="0.5"/>
<text x="655.8" y="506.9" font-size="2.6" fill="#333" textLength="1.4" lengthAdjust="spacingAndGlyphs" text-anchor="end" >3</text>
<line x1="658.5" y1="514.5" x2="659.8" y2="514.5" stroke="#000" stroke-width="0.5"/>
<text x="655.8" y="515.5" font-size="2.6" fill="#333" textLength="1.4" lengthAdjust="spacingAndGlyphs" text-anchor="end" >2</text>
<line x1="658.5" y1="523.1" x2="659.8" y2="523.1" stroke="#000" stroke-width="0.5"/>
<text x="655.8" y="524.1" font-size="2.6" fill="#333" textLength="1.4" lengthAdjust="spacingAndGlyphs" text-anchor="end" >1</text>
<line x1="658.5" y1="531.7" x2="659.8" y2="531.7" stroke="#000" stroke-width="0.5"/>
<text x="655.8" y="532.7" font-size="2.6" fill="#333" textLength="1.4" lengthAdjust="spacingAndGlyphs" text-anchor="end" >0</text>
<line x1="658.2" y1="530.5" x2="658.2" y2="529.2" stroke="#000" stroke-width="0.5"/>
<text x="658.2" y="533.8" font-size="2.6" fill="#333" textLength="2.2" lengthAdjust="spacingAndGlyphs" text-anchor="middle" >0</text>
<line x1="670.8" y1="530.5" x2="670.8" y2="529.2" stroke="#000" stroke-width="0.5"/>
<text x="670.8" y="533.8" font-size="2.6" fill="#333" textLength="3.8" lengthAdjust="spacingAndGlyphs" text-anchor="middle" >10</text>
<line x1="683.4" y1="530.5" x2="683.4" y2="529.2" stroke="#000" stroke-width="0.5"/>
<text x="683.4" y="533.8" font-size="2.6" fill="#333" textLength="3.8" lengthAdjust="spacingAndGlyphs" text-anchor="middle" >20</text>
<line x1="696" y1="530.5" x2="696" y2="529.2" stroke="#000" stroke-width="0.5"/>
<text x="696" y="533.8" font-size="2.6" fill="#333" textLength="3.8" lengthAdjust="spacingAndGlyphs" text-anchor="middle" >30</text>
<line x1="708.6" y1="530.5" x2="708.6" y2="529.2" stroke="#000" stroke-width="0.5"/>
<text x="708.6" y="533.8" font-size="2.6" fill="#333" textLength="3.8" lengthAdjust="spacingAndGlyphs" text-anchor="middle" >40</text>
<line x1="721.2" y1="530.5" x2="721.2" y2="529.2" stroke="#000" stroke-width="0.5"/>
<text x="721.2" y="533.8" font-size="2.6" fill="#333" textLength="3.8" lengthAdjust="spacingAndGlyphs" text-anchor="middle" >50</text>
<line x1="733.8" y1="530.5" x2="733.8" y2="529.2" stroke="#000" stroke-width="0.5"/>
<text x="733.8" y="533.8" font-size="2.6" fill="#333" textLength="3.8" lengthAdjust="spacingAndGlyphs" text-anchor="middle" >60</text>
<line x1="746.4" y1="530.5" x2="746.4" y2="529.2" stroke="#000" stroke-width="0.5"/>
<text x="746.4" y="533.8" font-size="2.6" fill="#333" textLength="3.8" lengthAdjust="spacingAndGlyphs" text-anchor="middle" >70</text>
<line x1="759" y1="530.5" x2="759" y2="529.2" stroke="#000" stroke-width="0.5"/>
<text x="759" y="533.8" font-size="2.6" fill="#333" textLength="3.8" lengthAdjust="spacingAndGlyphs" text-anchor="middle" >80</text>
<text x="694.4" y="538.6" font-size="3.6" fill="#111" textLength="21.4" lengthAdjust="spacingAndGlyphs" >time ( ×10s)</text>
<text x="649.4" y="513.3" font-size="3.6" fill="#111" textLength="41.1" lengthAdjust="spacingAndGlyphs" transform="rotate(-90 649.4 513.3)" >Conductivity (×10⁻⁴Ω⁻¹cm⁻¹)</text>
<path d="M658.2,463 L658.6,461.5 L693.3,461.5 L693.6,505 L694.5,515 L696.5,520.5 L700,522.0 L759,522.2" fill="none" stroke="#000" stroke-width="1.1"/>
<rect x="658.2" y="459.6" width="4.5" height="4" fill="#000"/>
<path d="M664,460.4 L666,460.4 L665,463.2 Z" fill="#000"/>
<path d="M666.6,460.4 L668.6,460.4 L667.6,463.2 Z" fill="#000"/>
<path d="M669.2,460.4 L671.2,460.4 L670.2,463.2 Z" fill="#000"/>
<path d="M671.8,460.4 L673.8,460.4 L672.8,463.2 Z" fill="#000"/>
<path d="M674.4,460.4 L676.4,460.4 L675.4,463.2 Z" fill="#000"/>
<path d="M677,460.4 L679,460.4 L678,463.2 Z" fill="#000"/>
<path d="M679.6,460.4 L681.6,460.4 L680.6,463.2 Z" fill="#000"/>
<path d="M682.2,460.4 L684.2,460.4 L683.2,463.2 Z" fill="#000"/>
<path d="M684.8,460.4 L686.8,460.4 L685.8,463.2 Z" fill="#000"/>
<path d="M687.4,460.4 L689.4,460.4 L688.4,463.2 Z" fill="#000"/>
<path d="M690,460.4 L692,460.4 L691,463.2 Z" fill="#000"/>
<path d="M696,520.6 L698,520.6 L697,524.0 Z" fill="#000"/>
<path d="M698.6,520.6 L700.6,520.6 L699.6,524.0 Z" fill="#000"/>
<path d="M701.2,520.6 L703.2,520.6 L702.2,524.0 Z" fill="#000"/>
<path d="M703.8,520.6 L705.8,520.6 L704.8,524.0 Z" fill="#000"/>
<path d="M706.4,520.6 L708.4,520.6 L707.4,524.0 Z" fill="#000"/>
<path d="M709,520.6 L711,520.6 L710,524.0 Z" fill="#000"/>
<path d="M711.6,520.6 L713.6,520.6 L712.6,524.0 Z" fill="#000"/>
<path d="M714.2,520.6 L716.2,520.6 L715.2,524.0 Z" fill="#000"/>
<path d="M716.8,520.6 L718.8,520.6 L717.8,524.0 Z" fill="#000"/>
<path d="M719.4,520.6 L721.4,520.6 L720.4,524.0 Z" fill="#000"/>
<path d="M722,520.6 L724,520.6 L723,524.0 Z" fill="#000"/>
<path d="M724.6,520.6 L726.6,520.6 L725.6,524.0 Z" fill="#000"/>
<path d="M727.2,520.6 L729.2,520.6 L728.2,524.0 Z" fill="#000"/>
<path d="M729.8,520.6 L731.8,520.6 L730.8,524.0 Z" fill="#000"/>
<path d="M732.4,520.6 L734.4,520.6 L733.4,524.0 Z" fill="#000"/>
<path d="M735,520.6 L737,520.6 L736,524.0 Z" fill="#000"/>
<path d="M737.6,520.6 L739.6,520.6 L738.6,524.0 Z" fill="#000"/>
<path d="M740.2,520.6 L742.2,520.6 L741.2,524.0 Z" fill="#000"/>
<path d="M742.8,520.6 L744.8,520.6 L743.8,524.0 Z" fill="#000"/>
<path d="M745.4,520.6 L747.4,520.6 L746.4,524.0 Z" fill="#000"/>
<path d="M748,520.6 L750,520.6 L749,524.0 Z" fill="#000"/>
<path d="M750.6,520.6 L752.6,520.6 L751.6,524.0 Z" fill="#000"/>
<path d="M753.2,520.6 L755.2,520.6 L754.2,524.0 Z" fill="#000"/>
<path d="M755.8,520.6 L757.8,520.6 L756.8,524.0 Z" fill="#000"/>
<rect x="692.3" y="508.6" width="2.4" height="2.4" fill="#000"/>
<rect x="692.8" y="515.6" width="2.4" height="2.4" fill="#000"/>
<path d="M658.2,505 L658.6,500 L693.4,500 L693.8,514 L696,520.5 L700,521.2" fill="none" stroke="#f00" stroke-width="1.0"/>
<rect x="662" y="499.0" width="1.0" height="3.2" fill="#f00"/>
<rect x="665" y="499.0" width="1.0" height="3.2" fill="#f00"/>
<rect x="668" y="499.0" width="1.0" height="3.2" fill="#f00"/>
<rect x="671" y="499.0" width="1.0" height="3.2" fill="#f00"/>
<rect x="674" y="499.0" width="1.0" height="3.2" fill="#f00"/>
<rect x="677" y="499.0" width="1.0" height="3.2" fill="#f00"/>
<rect x="680" y="499.0" width="1.0" height="3.2" fill="#f00"/>
<rect x="683" y="499.0" width="1.0" height="3.2" fill="#f00"/>
<rect x="686" y="499.0" width="1.0" height="3.2" fill="#f00"/>
<rect x="689" y="499.0" width="1.0" height="3.2" fill="#f00"/>
<rect x="658.6" y="498.5" width="3.5" height="2.8" fill="#f00"/>
<path d="M658.2,508 L658.8,502 L660.5,501.7 L692.0,501.7" fill="none" stroke="#00dd00" stroke-width="1.1"/>
<rect x="664" y="500.8" width="1.0" height="3.4" fill="#00dd00"/>
<rect x="667" y="500.8" width="1.0" height="3.4" fill="#00dd00"/>
<rect x="670" y="500.8" width="1.0" height="3.4" fill="#00dd00"/>
<rect x="673" y="500.8" width="1.0" height="3.4" fill="#00dd00"/>
<rect x="676" y="500.8" width="1.0" height="3.4" fill="#00dd00"/>
<rect x="679" y="500.8" width="1.0" height="3.4" fill="#00dd00"/>
<rect x="682" y="500.8" width="1.0" height="3.4" fill="#00dd00"/>
<rect x="685" y="500.8" width="1.0" height="3.4" fill="#00dd00"/>
<rect x="688" y="500.8" width="1.0" height="3.4" fill="#00dd00"/>
<rect x="691" y="500.8" width="1.0" height="3.4" fill="#00dd00"/>
<path d="M694,516 L696,523.6 L705,524.0" fill="none" stroke="#00dd00" stroke-width="1.6"/>
<rect x="710" y="522.5" width="1.0" height="3.0" fill="#00dd00"/>
<rect x="713" y="522.5" width="1.0" height="3.0" fill="#00dd00"/>
<rect x="716" y="522.5" width="1.0" height="3.0" fill="#00dd00"/>
<rect x="719" y="522.5" width="1.0" height="3.0" fill="#00dd00"/>
<rect x="722" y="522.5" width="1.0" height="3.0" fill="#00dd00"/>
<rect x="725" y="522.5" width="1.0" height="3.0" fill="#00dd00"/>
<rect x="728" y="522.5" width="1.0" height="3.0" fill="#00dd00"/>
<rect x="731" y="522.5" width="1.0" height="3.0" fill="#00dd00"/>
<rect x="734" y="522.5" width="1.0" height="3.0" fill="#00dd00"/>
<rect x="737" y="522.5" width="1.0" height="3.0" fill="#00dd00"/>
<rect x="740" y="522.5" width="1.0" height="3.0" fill="#00dd00"/>
<rect x="743" y="522.5" width="1.0" height="3.0" fill="#00dd00"/>
<rect x="746" y="522.5" width="1.0" height="3.0" fill="#00dd00"/>
<rect x="749" y="522.5" width="1.0" height="3.0" fill="#00dd00"/>
<rect x="752" y="522.5" width="1.0" height="3.0" fill="#00dd00"/>
<rect x="755" y="522.5" width="1.0" height="3.0" fill="#00dd00"/>
<path d="M658.2,523 L658.8,521 L660.5,520.5 L692.0,520.2 L700,521.5" fill="none" stroke="#ff00ff" stroke-width="1.2"/>
<path d="M664,520.4 L666,520.4 L665,517.6 Z" fill="#ff00ff"/>
<path d="M666.6,520.4 L668.6,520.4 L667.6,517.6 Z" fill="#ff00ff"/>
<path d="M669.2,520.4 L671.2,520.4 L670.2,517.6 Z" fill="#ff00ff"/>
<path d="M671.8,520.4 L673.8,520.4 L672.8,517.6 Z" fill="#ff00ff"/>
<path d="M674.4,520.4 L676.4,520.4 L675.4,517.6 Z" fill="#ff00ff"/>
<path d="M677,520.4 L679,520.4 L678,517.6 Z" fill="#ff00ff"/>
<path d="M679.6,520.4 L681.6,520.4 L680.6,517.6 Z" fill="#ff00ff"/>
<path d="M682.2,520.4 L684.2,520.4 L683.2,517.6 Z" fill="#ff00ff"/>
<path d="M684.8,520.4 L686.8,520.4 L685.8,517.6 Z" fill="#ff00ff"/>
<path d="M687.4,520.4 L689.4,520.4 L688.4,517.6 Z" fill="#ff00ff"/>
<path d="M690,520.4 L692,520.4 L691,517.6 Z" fill="#ff00ff"/>
<rect x="658.4" y="519.6" width="2.5" height="3.6" fill="#ff00ff"/>
<line x1="708.3" y1="470.8" x2="715.5" y2="470.8" stroke="#000" stroke-width="1"/>
<text x="716.6" y="471.9" font-size="3" fill="#222" textLength="34" lengthAdjust="spacingAndGlyphs" font-weight="bold" >Solar photoconduction</text>
<line x1="708.3" y1="474.9" x2="715.5" y2="474.9" stroke="#f00" stroke-width="1"/>
<text x="716.6" y="476" font-size="3" fill="#222" textLength="15" lengthAdjust="spacingAndGlyphs" >λ = 465 nm</text>
<line x1="708.3" y1="479.3" x2="715.5" y2="479.3" stroke="#00dd00" stroke-width="1"/>
<text x="716.6" y="480.4" font-size="3" fill="#222" textLength="15" lengthAdjust="spacingAndGlyphs" >λ = 520 nm</text>
<line x1="708.3" y1="483.8" x2="715.5" y2="483.8" stroke="#ff00ff" stroke-width="1"/>
<text x="716.6" y="484.9" font-size="3" fill="#222" textLength="15" lengthAdjust="spacingAndGlyphs" >λ = 550 nm</text>
</svg></body></html>
